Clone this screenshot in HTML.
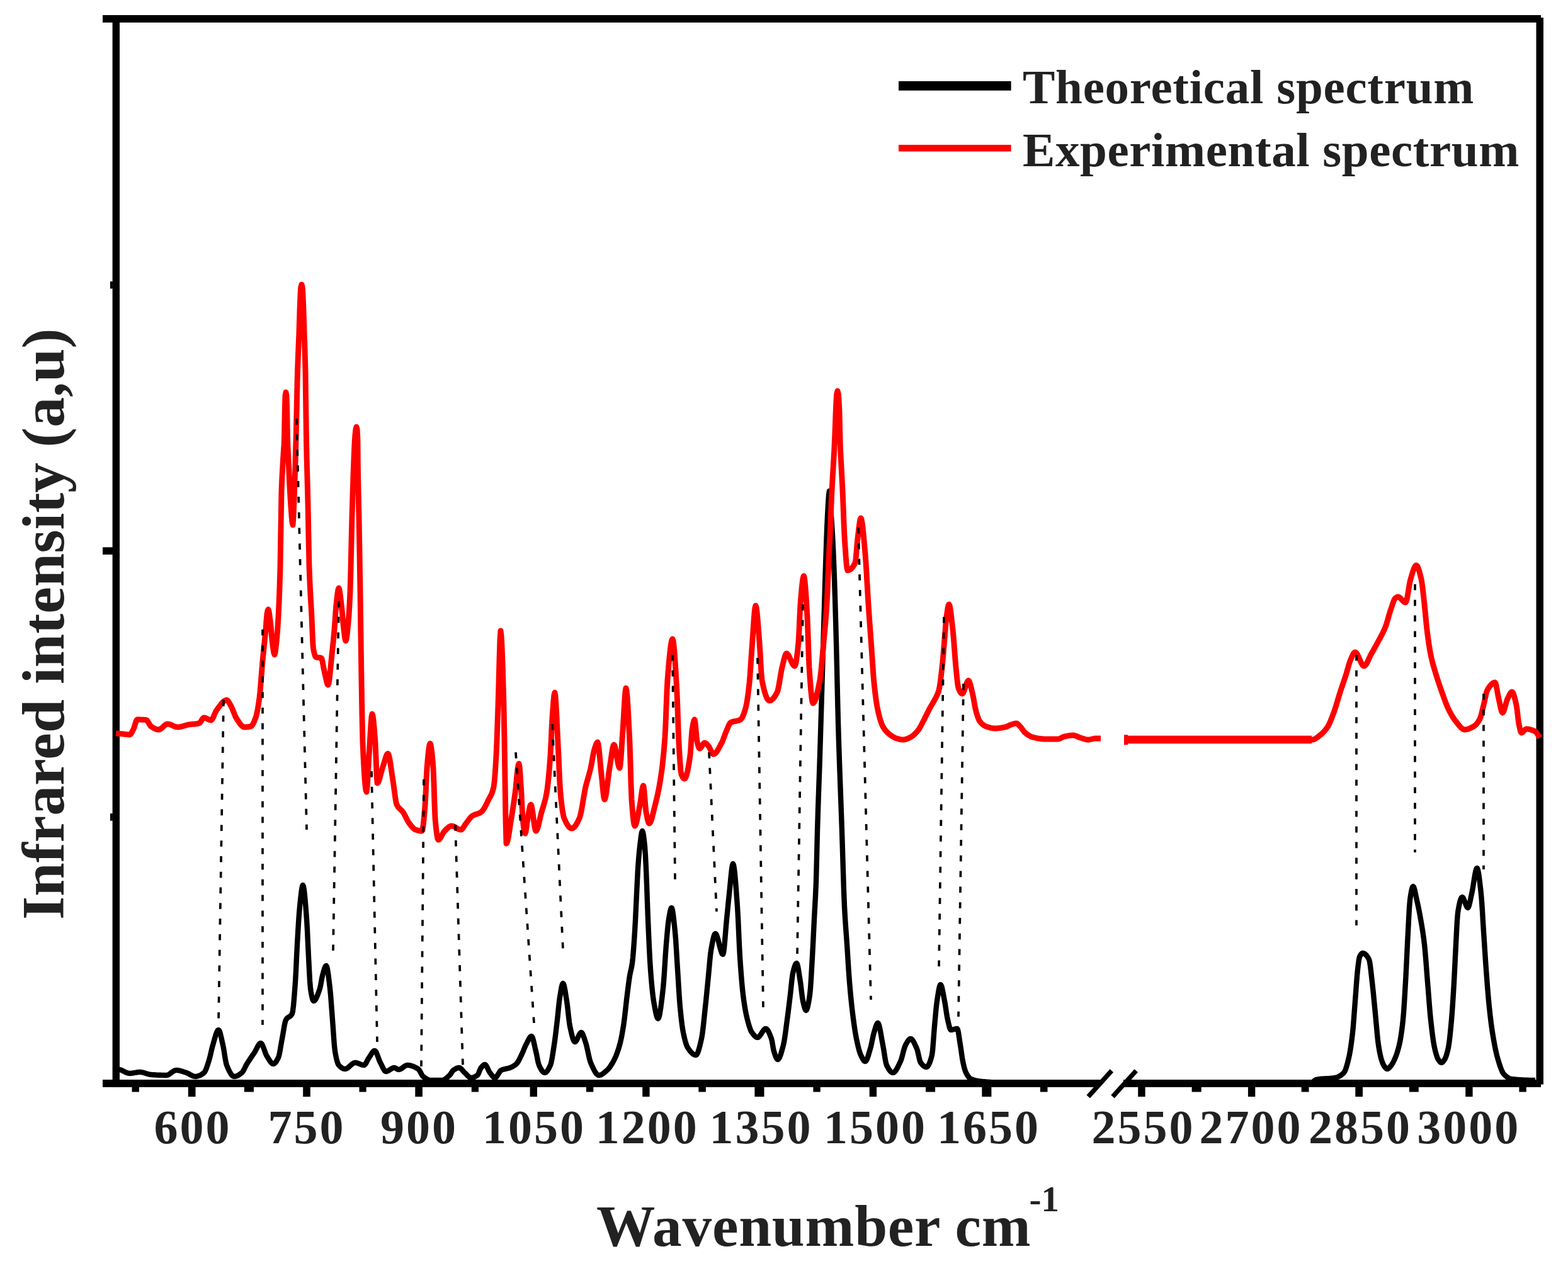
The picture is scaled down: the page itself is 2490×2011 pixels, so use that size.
<!DOCTYPE html>
<html lang="en"><head><meta charset="utf-8"><title>Infrared spectrum: theoretical vs experimental</title>
<style>html,body{margin:0;padding:0;background:#fff}svg{display:block}text{font-family:"Liberation Serif","DejaVu Serif",serif;font-weight:bold;fill:#222}</style></head><body>
<svg xmlns="http://www.w3.org/2000/svg" width="2490" height="2011" viewBox="0 0 2490 2011">
<rect width="2490" height="2011" fill="#fff"/>
<g fill="#000">
<rect x="163" y="24" width="2284" height="11.8"/>
<rect x="178.6" y="24" width="11.4" height="1703"/>
<rect x="2439.5" y="28" width="11.5" height="1694.6"/>
<rect x="163" y="1715" width="1584" height="11.9"/>
<rect x="1784" y="1715" width="663" height="11.9"/>
<rect x="163" y="869.3" width="16" height="11.6"/>
<rect x="174.9" y="447.1" width="4" height="11.4"/>
<rect x="174.9" y="1292.2" width="4" height="11.5"/>
<rect x="209.5" y="1726" width="11.4" height="8.5"/>
<rect x="298.8" y="1726" width="11.7" height="16.1"/>
<rect x="387.9" y="1726" width="15.1" height="8.5"/>
<rect x="481.2" y="1726" width="11.6" height="16.1"/>
<rect x="570.5" y="1726" width="11.1" height="8.5"/>
<rect x="659.3" y="1726" width="11.6" height="16.1"/>
<rect x="748.8" y="1726" width="11.2" height="8.5"/>
<rect x="841.6" y="1726" width="11.4" height="16.1"/>
<rect x="930.9" y="1726" width="11.4" height="8.5"/>
<rect x="1020.2" y="1726" width="11.4" height="16.1"/>
<rect x="1109.3" y="1726" width="11.6" height="8.5"/>
<rect x="1198.4" y="1726" width="15.1" height="16.1"/>
<rect x="1291.4" y="1726" width="11.4" height="8.5"/>
<rect x="1380.7" y="1726" width="11.4" height="16.1"/>
<rect x="1470.0" y="1726" width="15.1" height="8.5"/>
<rect x="1559.3" y="1726" width="15.1" height="16.1"/>
<rect x="1651.9" y="1726" width="11.6" height="8.5"/>
<rect x="1807.2" y="1726" width="11.4" height="16.1"/>
<rect x="1892.6" y="1726" width="15.1" height="8.5"/>
<rect x="1981.9" y="1726" width="11.4" height="16.1"/>
<rect x="2066.7" y="1726" width="11.8" height="8.5"/>
<rect x="2152.3" y="1726" width="11.7" height="16.1"/>
<rect x="2237.9" y="1726" width="14.9" height="8.5"/>
<rect x="2327.2" y="1726" width="11.4" height="16.1"/>
<rect x="2412.4" y="1726" width="11.4" height="8.5"/>
</g>
<g stroke="#000" stroke-width="7.4" stroke-linecap="butt">
<line x1="1728.2" y1="1742" x2="1765.3" y2="1700.8"/>
<line x1="1767" y1="1742" x2="1804.2" y2="1700.8"/>
</g>
<g fill="none" stroke="#000" stroke-width="8.4" stroke-linejoin="round" stroke-linecap="butt">
<path d="M186.0,1698.0 L187.0,1698.2 L188.0,1698.5 L189.0,1698.7 L190.0,1699.0 L191.0,1699.3 L192.0,1699.7 L193.0,1700.1 L194.0,1700.6 L195.0,1701.1 L196.0,1701.6 L197.0,1702.1 L198.0,1702.6 L199.0,1703.1 L200.0,1703.5 L201.0,1703.9 L202.0,1704.3 L203.0,1704.6 L204.0,1704.8 L205.0,1704.9 L206.0,1705.0 L207.0,1705.0 L208.0,1704.9 L209.0,1704.8 L210.0,1704.7 L211.0,1704.5 L212.0,1704.4 L213.0,1704.2 L214.0,1704.0 L215.0,1703.8 L216.0,1703.6 L217.0,1703.5 L218.0,1703.3 L219.0,1703.2 L220.0,1703.1 L221.0,1703.0 L222.0,1703.0 L223.0,1703.0 L224.0,1703.1 L225.0,1703.3 L226.0,1703.5 L227.0,1703.7 L228.0,1703.9 L229.0,1704.2 L230.0,1704.5 L231.0,1704.8 L232.0,1705.2 L233.0,1705.5 L234.0,1705.8 L235.0,1706.1 L236.0,1706.3 L237.0,1706.6 L238.0,1706.7 L239.0,1706.9 L240.0,1707.0 L241.0,1707.1 L242.0,1707.1 L243.0,1707.2 L244.0,1707.3 L245.0,1707.3 L246.0,1707.4 L247.0,1707.5 L248.0,1707.5 L249.0,1707.6 L250.0,1707.6 L251.0,1707.7 L252.0,1707.7 L253.0,1707.8 L254.0,1707.8 L255.0,1707.8 L256.0,1707.9 L257.0,1707.9 L258.0,1707.9 L259.0,1707.9 L260.0,1708.0 L261.0,1708.0 L262.0,1708.0 L263.0,1708.0 L264.0,1708.0 L265.0,1707.9 L266.0,1707.7 L267.0,1707.3 L268.0,1706.8 L269.0,1706.1 L270.0,1705.5 L271.0,1704.7 L272.0,1704.0 L273.0,1703.3 L274.0,1702.5 L275.0,1701.9 L276.0,1701.2 L277.0,1700.7 L278.0,1700.3 L279.0,1700.1 L280.0,1700.0 L281.0,1700.0 L282.0,1700.1 L283.0,1700.2 L284.0,1700.4 L285.0,1700.6 L286.0,1700.8 L287.0,1701.1 L288.0,1701.4 L289.0,1701.7 L290.0,1702.0 L291.0,1702.3 L292.0,1702.7 L293.0,1703.0 L294.0,1703.3 L295.0,1703.7 L296.0,1704.0 L297.0,1704.4 L298.0,1704.8 L299.0,1705.3 L300.0,1705.8 L301.0,1706.4 L302.0,1707.0 L303.0,1707.6 L304.0,1708.1 L305.0,1708.6 L306.0,1709.1 L307.0,1709.5 L308.0,1709.7 L309.0,1709.9 L310.0,1710.0 L311.0,1710.0 L312.0,1709.9 L313.0,1709.7 L314.0,1709.4 L315.0,1709.1 L316.0,1708.8 L317.0,1708.4 L318.0,1707.9 L319.0,1707.4 L320.0,1706.8 L321.0,1706.2 L322.0,1705.5 L323.0,1704.8 L324.0,1704.0 L325.0,1702.9 L326.0,1701.2 L327.0,1698.9 L328.0,1696.3 L329.0,1693.4 L330.0,1690.3 L331.0,1687.2 L332.0,1684.0 L333.0,1680.5 L334.0,1676.5 L335.0,1672.1 L336.0,1667.7 L337.0,1663.6 L338.0,1660.0 L339.0,1656.6 L340.0,1653.0 L341.0,1649.5 L342.0,1646.0 L343.0,1642.8 L344.0,1640.1 L345.0,1637.9 L346.0,1636.5 L347.0,1636.0 L348.0,1636.8 L349.0,1639.0 L350.0,1642.4 L351.0,1646.4 L352.0,1651.0 L353.0,1655.6 L354.0,1660.0 L355.0,1664.9 L356.0,1670.9 L357.0,1677.3 L358.0,1683.3 L359.0,1688.5 L360.0,1692.0 L361.0,1694.5 L362.0,1696.8 L363.0,1699.0 L364.0,1701.1 L365.0,1703.0 L366.0,1704.7 L367.0,1706.3 L368.0,1707.6 L369.0,1708.6 L370.0,1709.4 L371.0,1709.8 L372.0,1710.0 L373.0,1709.9 L374.0,1709.8 L375.0,1709.5 L376.0,1709.2 L377.0,1708.7 L378.0,1708.2 L379.0,1707.6 L380.0,1707.0 L381.0,1706.3 L382.0,1705.6 L383.0,1704.8 L384.0,1704.0 L385.0,1703.0 L386.0,1701.5 L387.0,1699.8 L388.0,1697.8 L389.0,1695.8 L390.0,1693.7 L391.0,1691.8 L392.0,1690.0 L393.0,1688.4 L394.0,1686.8 L395.0,1685.3 L396.0,1683.8 L397.0,1682.3 L398.0,1680.8 L399.0,1679.3 L400.0,1677.9 L401.0,1676.4 L402.0,1675.0 L403.0,1673.5 L404.0,1672.0 L405.0,1670.4 L406.0,1668.5 L407.0,1666.6 L408.0,1664.6 L409.0,1662.6 L410.0,1660.8 L411.0,1659.3 L412.0,1658.1 L413.0,1657.3 L414.0,1657.0 L415.0,1657.5 L416.0,1658.7 L417.0,1660.6 L418.0,1662.9 L419.0,1665.6 L420.0,1668.4 L421.0,1671.2 L422.0,1673.9 L423.0,1676.2 L424.0,1678.0 L425.0,1679.6 L426.0,1681.2 L427.0,1682.8 L428.0,1684.4 L429.0,1685.9 L430.0,1687.2 L431.0,1688.4 L432.0,1689.2 L433.0,1689.8 L434.0,1690.0 L435.0,1689.8 L436.0,1689.2 L437.0,1688.3 L438.0,1687.1 L439.0,1685.6 L440.0,1683.9 L441.0,1682.0 L442.0,1680.0 L443.0,1677.0 L444.0,1672.6 L445.0,1667.2 L446.0,1661.3 L447.0,1655.4 L448.0,1650.0 L449.0,1644.6 L450.0,1638.6 L451.0,1632.6 L452.0,1627.1 L453.0,1622.8 L454.0,1620.0 L455.0,1618.5 L456.0,1617.3 L457.0,1616.5 L458.0,1615.9 L459.0,1615.3 L460.0,1614.7 L461.0,1614.0 L462.0,1613.0 L463.0,1611.7 L464.0,1610.0 L465.0,1605.7 L466.0,1597.5 L467.0,1586.5 L468.0,1573.7 L469.0,1560.0 L470.0,1542.2 L471.0,1520.2 L472.0,1500.0 L473.0,1482.7 L474.0,1466.1 L475.0,1451.5 L476.0,1440.0 L477.0,1430.4 L478.0,1421.2 L479.0,1413.4 L480.0,1408.0 L481.0,1406.0 L482.0,1408.2 L483.0,1414.2 L484.0,1423.3 L485.0,1434.5 L486.0,1447.0 L487.0,1460.0 L488.0,1477.3 L489.0,1499.2 L490.0,1520.0 L491.0,1539.5 L492.0,1558.1 L493.0,1570.0 L494.0,1576.4 L495.0,1581.9 L496.0,1586.2 L497.0,1589.0 L498.0,1590.0 L499.0,1589.7 L500.0,1588.9 L501.0,1587.6 L502.0,1585.9 L503.0,1583.8 L504.0,1581.4 L505.0,1578.8 L506.0,1576.0 L507.0,1573.0 L508.0,1570.0 L509.0,1565.8 L510.0,1560.3 L511.0,1554.6 L512.0,1550.0 L513.0,1546.3 L514.0,1542.7 L515.0,1539.3 L516.0,1536.6 L517.0,1534.7 L518.0,1534.0 L519.0,1535.5 L520.0,1539.6 L521.0,1545.8 L522.0,1553.3 L523.0,1561.6 L524.0,1570.0 L525.0,1580.1 L526.0,1592.9 L527.0,1606.7 L528.0,1620.0 L529.0,1633.7 L530.0,1648.3 L531.0,1661.2 L532.0,1670.0 L533.0,1675.6 L534.0,1680.4 L535.0,1684.6 L536.0,1687.9 L537.0,1690.4 L538.0,1692.0 L539.0,1693.1 L540.0,1694.0 L541.0,1694.9 L542.0,1695.7 L543.0,1696.4 L544.0,1696.9 L545.0,1697.4 L546.0,1697.7 L547.0,1697.9 L548.0,1698.0 L549.0,1697.9 L550.0,1697.6 L551.0,1697.1 L552.0,1696.4 L553.0,1695.7 L554.0,1694.8 L555.0,1693.9 L556.0,1693.0 L557.0,1692.1 L558.0,1691.2 L559.0,1690.3 L560.0,1689.6 L561.0,1688.9 L562.0,1688.4 L563.0,1688.1 L564.0,1688.0 L565.0,1688.1 L566.0,1688.2 L567.0,1688.5 L568.0,1688.8 L569.0,1689.2 L570.0,1689.6 L571.0,1690.0 L572.0,1690.4 L573.0,1690.8 L574.0,1691.2 L575.0,1691.5 L576.0,1691.8 L577.0,1691.9 L578.0,1692.0 L579.0,1691.6 L580.0,1690.6 L581.0,1689.2 L582.0,1687.3 L583.0,1685.4 L584.0,1683.4 L585.0,1681.5 L586.0,1680.0 L587.0,1678.6 L588.0,1677.0 L589.0,1675.3 L590.0,1673.7 L591.0,1672.3 L592.0,1671.0 L593.0,1669.9 L594.0,1669.2 L595.0,1669.0 L596.0,1669.5 L597.0,1670.8 L598.0,1672.7 L599.0,1675.2 L600.0,1677.9 L601.0,1680.7 L602.0,1683.4 L603.0,1685.9 L604.0,1688.0 L605.0,1689.9 L606.0,1691.9 L607.0,1694.0 L608.0,1696.0 L609.0,1697.9 L610.0,1699.6 L611.0,1700.9 L612.0,1701.7 L613.0,1702.0 L614.0,1701.9 L615.0,1701.6 L616.0,1701.2 L617.0,1700.6 L618.0,1700.0 L619.0,1699.3 L620.0,1698.7 L621.0,1698.0 L622.0,1697.4 L623.0,1696.8 L624.0,1696.4 L625.0,1696.1 L626.0,1696.0 L627.0,1696.2 L628.0,1696.6 L629.0,1697.2 L630.0,1697.8 L631.0,1698.4 L632.0,1698.8 L633.0,1699.0 L634.0,1698.9 L635.0,1698.6 L636.0,1698.2 L637.0,1697.6 L638.0,1697.0 L639.0,1696.2 L640.0,1695.5 L641.0,1694.8 L642.0,1694.0 L643.0,1693.4 L644.0,1692.8 L645.0,1692.4 L646.0,1692.1 L647.0,1692.0 L648.0,1692.0 L649.0,1692.1 L650.0,1692.2 L651.0,1692.4 L652.0,1692.6 L653.0,1692.9 L654.0,1693.2 L655.0,1693.5 L656.0,1693.9 L657.0,1694.3 L658.0,1694.7 L659.0,1695.2 L660.0,1695.7 L661.0,1696.2 L662.0,1696.8 L663.0,1697.4 L664.0,1698.0 L665.0,1698.9 L666.0,1700.3 L667.0,1702.0 L668.0,1703.8 L669.0,1705.7 L670.0,1707.5 L671.0,1709.0 L672.0,1710.0 L673.0,1710.8 L674.0,1711.5 L675.0,1712.2 L676.0,1712.9 L677.0,1713.6 L678.0,1714.2 L679.0,1714.7 L680.0,1715.1 L681.0,1715.5 L682.0,1715.8 L683.0,1715.9 L684.0,1716.0 L685.0,1716.0 L686.0,1716.0 L687.0,1716.0 L688.0,1716.0 L689.0,1716.0 L690.0,1716.0 L691.0,1716.0 L692.0,1716.0 L693.0,1716.0 L694.0,1716.0 L695.0,1716.0 L696.0,1716.0 L697.0,1716.0 L698.0,1716.0 L699.0,1716.0 L700.0,1716.0 L701.0,1716.0 L702.0,1716.0 L703.0,1715.9 L704.0,1715.7 L705.0,1715.3 L706.0,1714.7 L707.0,1714.1 L708.0,1713.4 L709.0,1712.6 L710.0,1711.7 L711.0,1710.8 L712.0,1709.9 L713.0,1708.9 L714.0,1708.0 L715.0,1706.9 L716.0,1705.4 L717.0,1703.8 L718.0,1702.3 L719.0,1700.9 L720.0,1700.0 L721.0,1699.3 L722.0,1698.7 L723.0,1698.0 L724.0,1697.5 L725.0,1697.0 L726.0,1696.6 L727.0,1696.3 L728.0,1696.1 L729.0,1696.0 L730.0,1696.2 L731.0,1696.7 L732.0,1697.5 L733.0,1698.5 L734.0,1699.6 L735.0,1700.8 L736.0,1702.0 L737.0,1703.1 L738.0,1704.0 L739.0,1704.9 L740.0,1705.9 L741.0,1707.0 L742.0,1708.0 L743.0,1709.1 L744.0,1710.0 L745.0,1710.8 L746.0,1711.4 L747.0,1711.9 L748.0,1712.0 L749.0,1712.0 L750.0,1711.8 L751.0,1711.6 L752.0,1711.3 L753.0,1710.9 L754.0,1710.4 L755.0,1709.9 L756.0,1709.3 L757.0,1708.7 L758.0,1708.0 L759.0,1706.8 L760.0,1704.8 L761.0,1702.4 L762.0,1699.8 L763.0,1697.6 L764.0,1696.0 L765.0,1694.8 L766.0,1693.7 L767.0,1692.6 L768.0,1691.8 L769.0,1691.2 L770.0,1691.0 L771.0,1691.4 L772.0,1692.6 L773.0,1694.2 L774.0,1696.3 L775.0,1698.4 L776.0,1700.6 L777.0,1702.5 L778.0,1704.0 L779.0,1705.3 L780.0,1706.6 L781.0,1708.0 L782.0,1709.2 L783.0,1710.3 L784.0,1711.2 L785.0,1711.8 L786.0,1712.0 L787.0,1711.7 L788.0,1710.9 L789.0,1709.7 L790.0,1708.2 L791.0,1706.6 L792.0,1704.9 L793.0,1703.3 L794.0,1701.9 L795.0,1700.7 L796.0,1700.0 L797.0,1699.6 L798.0,1699.2 L799.0,1698.8 L800.0,1698.6 L801.0,1698.3 L802.0,1698.1 L803.0,1697.9 L804.0,1697.6 L805.0,1697.4 L806.0,1697.2 L807.0,1697.0 L808.0,1696.7 L809.0,1696.4 L810.0,1696.0 L811.0,1695.6 L812.0,1695.2 L813.0,1694.7 L814.0,1694.2 L815.0,1693.6 L816.0,1693.0 L817.0,1692.4 L818.0,1691.7 L819.0,1690.9 L820.0,1690.0 L821.0,1688.9 L822.0,1687.5 L823.0,1685.9 L824.0,1684.1 L825.0,1682.1 L826.0,1680.1 L827.0,1678.0 L828.0,1676.0 L829.0,1673.9 L830.0,1671.6 L831.0,1669.3 L832.0,1666.8 L833.0,1664.4 L834.0,1662.1 L835.0,1659.9 L836.0,1658.0 L837.0,1656.1 L838.0,1654.1 L839.0,1652.1 L840.0,1650.2 L841.0,1648.5 L842.0,1647.2 L843.0,1646.3 L844.0,1646.0 L845.0,1646.9 L846.0,1649.2 L847.0,1652.6 L848.0,1656.8 L849.0,1661.3 L850.0,1665.8 L851.0,1670.0 L852.0,1674.4 L853.0,1679.5 L854.0,1684.6 L855.0,1689.0 L856.0,1692.0 L857.0,1694.1 L858.0,1696.1 L859.0,1698.0 L860.0,1699.7 L861.0,1701.1 L862.0,1702.3 L863.0,1703.2 L864.0,1703.8 L865.0,1704.0 L866.0,1703.8 L867.0,1703.3 L868.0,1702.4 L869.0,1701.2 L870.0,1699.7 L871.0,1698.1 L872.0,1696.2 L873.0,1694.2 L874.0,1692.0 L875.0,1689.0 L876.0,1684.6 L877.0,1679.2 L878.0,1673.0 L879.0,1666.5 L880.0,1660.0 L881.0,1653.1 L882.0,1645.4 L883.0,1637.1 L884.0,1628.6 L885.0,1620.0 L886.0,1610.7 L887.0,1600.7 L888.0,1591.4 L889.0,1584.0 L890.0,1577.9 L891.0,1571.9 L892.0,1566.9 L893.0,1563.3 L894.0,1562.0 L895.0,1563.2 L896.0,1566.6 L897.0,1571.5 L898.0,1577.5 L899.0,1583.8 L900.0,1590.0 L901.0,1597.2 L902.0,1606.1 L903.0,1615.4 L904.0,1623.8 L905.0,1630.0 L906.0,1634.6 L907.0,1639.1 L908.0,1643.4 L909.0,1647.2 L910.0,1650.4 L911.0,1652.8 L912.0,1654.4 L913.0,1655.0 L914.0,1654.6 L915.0,1653.4 L916.0,1651.8 L917.0,1649.7 L918.0,1647.5 L919.0,1645.3 L920.0,1643.2 L921.0,1641.6 L922.0,1640.4 L923.0,1640.0 L924.0,1640.5 L925.0,1642.0 L926.0,1644.2 L927.0,1646.9 L928.0,1649.9 L929.0,1653.0 L930.0,1656.0 L931.0,1659.3 L932.0,1663.4 L933.0,1667.9 L934.0,1672.6 L935.0,1677.2 L936.0,1681.5 L937.0,1685.2 L938.0,1688.0 L939.0,1690.3 L940.0,1692.6 L941.0,1694.8 L942.0,1696.9 L943.0,1699.0 L944.0,1700.9 L945.0,1702.6 L946.0,1704.1 L947.0,1705.4 L948.0,1706.5 L949.0,1707.3 L950.0,1707.8 L951.0,1708.0 L952.0,1707.9 L953.0,1707.7 L954.0,1707.4 L955.0,1706.9 L956.0,1706.4 L957.0,1705.8 L958.0,1705.1 L959.0,1704.3 L960.0,1703.5 L961.0,1702.6 L962.0,1701.8 L963.0,1700.9 L964.0,1700.0 L965.0,1699.1 L966.0,1698.0 L967.0,1696.8 L968.0,1695.6 L969.0,1694.2 L970.0,1692.7 L971.0,1691.2 L972.0,1689.5 L973.0,1687.8 L974.0,1686.0 L975.0,1684.1 L976.0,1682.1 L977.0,1679.9 L978.0,1677.6 L979.0,1675.1 L980.0,1672.5 L981.0,1669.6 L982.0,1666.6 L983.0,1663.4 L984.0,1660.0 L985.0,1656.2 L986.0,1651.9 L987.0,1647.1 L988.0,1641.8 L989.0,1636.1 L990.0,1630.0 L991.0,1623.0 L992.0,1615.0 L993.0,1606.2 L994.0,1597.2 L995.0,1588.3 L996.0,1580.0 L997.0,1572.0 L998.0,1564.1 L999.0,1556.6 L1000.0,1550.0 L1001.0,1544.8 L1002.0,1540.6 L1003.0,1536.0 L1004.0,1530.0 L1005.0,1521.1 L1006.0,1509.2 L1007.0,1495.2 L1008.0,1480.0 L1009.0,1462.0 L1010.0,1441.0 L1011.0,1420.0 L1012.0,1398.8 L1013.0,1380.0 L1014.0,1366.1 L1015.0,1354.4 L1016.0,1345.0 L1017.0,1336.4 L1018.0,1328.4 L1019.0,1322.4 L1020.0,1320.0 L1021.0,1322.1 L1022.0,1327.6 L1023.0,1335.6 L1024.0,1345.0 L1025.0,1359.7 L1026.0,1380.0 L1027.0,1404.9 L1028.0,1433.7 L1029.0,1460.0 L1030.0,1482.9 L1031.0,1504.8 L1032.0,1524.2 L1033.0,1540.0 L1034.0,1552.9 L1035.0,1564.5 L1036.0,1574.7 L1037.0,1583.2 L1038.0,1590.0 L1039.0,1595.9 L1040.0,1601.5 L1041.0,1606.8 L1042.0,1611.3 L1043.0,1614.8 L1044.0,1617.2 L1045.0,1618.0 L1046.0,1616.9 L1047.0,1613.8 L1048.0,1608.9 L1049.0,1602.7 L1050.0,1595.3 L1051.0,1587.2 L1052.0,1578.7 L1053.0,1570.0 L1054.0,1559.0 L1055.0,1544.7 L1056.0,1528.8 L1057.0,1513.3 L1058.0,1500.0 L1059.0,1488.3 L1060.0,1477.1 L1061.0,1467.4 L1062.0,1460.0 L1063.0,1454.1 L1064.0,1448.7 L1065.0,1444.5 L1066.0,1442.2 L1066.4,1442.0 L1067.0,1442.7 L1068.0,1446.4 L1069.0,1452.8 L1070.0,1461.0 L1071.0,1470.4 L1072.0,1480.0 L1073.0,1491.9 L1074.0,1507.3 L1075.0,1524.0 L1076.0,1540.0 L1077.0,1555.8 L1078.0,1572.2 L1079.0,1587.5 L1080.0,1600.0 L1081.0,1610.1 L1082.0,1619.3 L1083.0,1627.5 L1084.0,1634.4 L1085.0,1640.0 L1086.0,1644.7 L1087.0,1649.1 L1088.0,1653.1 L1089.0,1656.6 L1090.0,1659.7 L1091.0,1662.1 L1092.0,1664.0 L1093.0,1665.5 L1094.0,1667.0 L1095.0,1668.4 L1096.0,1669.7 L1097.0,1670.9 L1098.0,1672.0 L1099.0,1673.0 L1100.0,1673.9 L1101.0,1674.6 L1102.0,1675.2 L1103.0,1675.6 L1104.0,1675.9 L1105.0,1676.0 L1106.0,1675.5 L1107.0,1674.3 L1108.0,1672.2 L1109.0,1669.5 L1110.0,1666.3 L1111.0,1662.7 L1112.0,1658.6 L1113.0,1654.4 L1114.0,1650.0 L1115.0,1644.5 L1116.0,1637.1 L1117.0,1628.5 L1118.0,1619.1 L1119.0,1609.4 L1120.0,1600.0 L1121.0,1590.6 L1122.0,1580.6 L1123.0,1570.4 L1124.0,1560.1 L1125.0,1550.0 L1126.0,1539.2 L1127.0,1527.9 L1128.0,1517.6 L1129.0,1510.0 L1130.0,1504.2 L1131.0,1498.7 L1132.0,1493.7 L1133.0,1489.4 L1134.0,1486.0 L1135.0,1483.8 L1136.0,1483.0 L1137.0,1483.6 L1138.0,1485.4 L1139.0,1488.2 L1140.0,1491.6 L1141.0,1495.4 L1142.0,1499.5 L1143.0,1503.6 L1144.0,1507.4 L1145.0,1510.8 L1146.0,1513.6 L1147.0,1515.4 L1148.0,1516.0 L1149.0,1513.2 L1150.0,1505.8 L1151.0,1495.3 L1152.0,1483.1 L1153.0,1470.9 L1154.0,1460.0 L1155.0,1450.0 L1156.0,1439.6 L1157.0,1429.5 L1158.0,1420.0 L1159.0,1410.2 L1160.0,1399.6 L1161.0,1389.3 L1162.0,1380.5 L1163.0,1374.3 L1164.0,1372.0 L1165.0,1374.1 L1166.0,1380.0 L1167.0,1388.8 L1168.0,1400.0 L1169.0,1412.7 L1170.0,1426.3 L1171.0,1440.0 L1172.0,1457.3 L1173.0,1479.2 L1174.0,1501.5 L1175.0,1520.0 L1176.0,1534.6 L1177.0,1548.1 L1178.0,1560.3 L1179.0,1571.0 L1180.0,1580.0 L1181.0,1587.7 L1182.0,1594.7 L1183.0,1601.0 L1184.0,1606.6 L1185.0,1611.6 L1186.0,1616.0 L1187.0,1620.0 L1188.0,1623.8 L1189.0,1627.4 L1190.0,1630.7 L1191.0,1633.6 L1192.0,1636.2 L1193.0,1638.4 L1194.0,1640.0 L1195.0,1641.4 L1196.0,1642.7 L1197.0,1643.9 L1198.0,1645.0 L1199.0,1646.0 L1200.0,1646.9 L1201.0,1647.5 L1202.0,1647.9 L1203.0,1648.0 L1204.0,1647.8 L1205.0,1647.1 L1206.0,1646.1 L1207.0,1644.8 L1208.0,1643.4 L1209.0,1641.8 L1210.0,1640.2 L1211.0,1638.6 L1212.0,1637.2 L1213.0,1635.9 L1214.0,1634.9 L1215.0,1634.2 L1216.0,1634.0 L1217.0,1634.3 L1218.0,1635.1 L1219.0,1636.3 L1220.0,1637.9 L1221.0,1639.9 L1222.0,1642.1 L1223.0,1644.6 L1224.0,1647.2 L1225.0,1650.0 L1226.0,1654.1 L1227.0,1659.8 L1228.0,1665.7 L1229.0,1670.0 L1230.0,1673.1 L1231.0,1676.1 L1232.0,1678.8 L1233.0,1681.0 L1234.0,1682.5 L1235.0,1683.0 L1236.0,1682.6 L1237.0,1681.4 L1238.0,1679.6 L1239.0,1677.2 L1240.0,1674.3 L1241.0,1671.0 L1242.0,1667.5 L1243.0,1663.8 L1244.0,1660.0 L1245.0,1655.4 L1246.0,1649.5 L1247.0,1642.6 L1248.0,1635.2 L1249.0,1627.5 L1250.0,1620.0 L1251.0,1612.5 L1252.0,1604.6 L1253.0,1596.5 L1254.0,1588.3 L1255.0,1580.0 L1256.0,1570.8 L1257.0,1561.0 L1258.0,1552.1 L1259.0,1546.0 L1260.0,1541.9 L1261.0,1538.1 L1262.0,1534.8 L1263.0,1532.3 L1264.0,1530.6 L1265.0,1530.0 L1266.0,1531.4 L1267.0,1535.1 L1268.0,1540.4 L1269.0,1546.8 L1270.0,1553.6 L1271.0,1560.0 L1272.0,1567.3 L1273.0,1575.9 L1274.0,1584.0 L1275.0,1590.0 L1276.0,1594.3 L1277.0,1598.4 L1278.0,1601.8 L1279.0,1604.1 L1280.0,1605.0 L1281.0,1604.1 L1282.0,1601.5 L1283.0,1597.6 L1284.0,1592.5 L1285.0,1586.6 L1286.0,1580.0 L1287.0,1570.0 L1288.0,1555.2 L1289.0,1537.8 L1290.0,1520.0 L1291.0,1501.2 L1292.0,1480.6 L1293.0,1460.0 L1294.0,1441.6 L1295.0,1423.2 L1296.0,1400.0 L1297.0,1361.9 L1298.0,1320.0 L1299.0,1287.6 L1300.0,1258.4 L1301.0,1230.0 L1302.0,1200.0 L1303.0,1167.4 L1304.0,1133.7 L1305.0,1100.0 L1306.0,1066.7 L1307.0,1033.3 L1308.0,1000.0 L1309.0,965.8 L1310.0,931.7 L1311.0,900.0 L1312.0,870.0 L1313.0,842.1 L1314.0,820.0 L1315.0,801.7 L1316.0,786.4 L1317.0,780.0 L1318.0,789.6 L1319.0,806.0 L1320.0,819.6 L1321.0,833.8 L1322.0,850.0 L1323.0,869.5 L1324.0,892.4 L1324.5,905.0 L1325.0,918.7 L1326.0,949.4 L1327.0,983.6 L1328.0,1020.0 L1329.0,1061.6 L1330.0,1106.7 L1331.0,1147.0 L1332.0,1180.1 L1333.0,1209.9 L1334.0,1237.7 L1335.0,1264.5 L1336.0,1291.6 L1337.0,1320.0 L1338.0,1351.6 L1339.0,1384.7 L1340.0,1415.5 L1341.0,1440.0 L1342.0,1457.8 L1343.0,1472.5 L1344.0,1485.9 L1345.0,1500.0 L1346.0,1515.5 L1347.0,1531.5 L1348.0,1546.6 L1349.0,1560.0 L1350.0,1571.6 L1351.0,1582.4 L1352.0,1592.4 L1353.0,1601.6 L1354.0,1610.0 L1355.0,1617.9 L1356.0,1625.4 L1357.0,1632.4 L1358.0,1638.9 L1359.0,1644.8 L1360.0,1650.0 L1361.0,1654.7 L1362.0,1659.2 L1363.0,1663.4 L1364.0,1667.3 L1365.0,1670.7 L1366.0,1673.6 L1367.0,1676.0 L1368.0,1678.1 L1369.0,1680.1 L1370.0,1682.0 L1371.0,1683.6 L1372.0,1684.9 L1373.0,1685.7 L1374.0,1686.0 L1375.0,1685.5 L1376.0,1684.1 L1377.0,1681.9 L1378.0,1679.2 L1379.0,1676.1 L1380.0,1672.7 L1381.0,1669.3 L1382.0,1666.0 L1383.0,1662.3 L1384.0,1657.8 L1385.0,1653.0 L1386.0,1648.1 L1387.0,1643.7 L1388.0,1640.0 L1389.0,1636.7 L1390.0,1633.3 L1391.0,1630.1 L1392.0,1627.5 L1393.0,1625.7 L1394.0,1625.0 L1395.0,1626.0 L1396.0,1628.7 L1397.0,1632.7 L1398.0,1637.7 L1399.0,1643.3 L1400.0,1649.1 L1401.0,1654.8 L1402.0,1660.0 L1403.0,1665.4 L1404.0,1671.7 L1405.0,1678.1 L1406.0,1684.0 L1407.0,1688.9 L1408.0,1692.0 L1409.0,1694.0 L1410.0,1695.9 L1411.0,1697.6 L1412.0,1699.2 L1413.0,1700.6 L1414.0,1701.8 L1415.0,1702.7 L1416.0,1703.4 L1417.0,1703.9 L1418.0,1704.0 L1419.0,1703.8 L1420.0,1703.3 L1421.0,1702.4 L1422.0,1701.2 L1423.0,1699.8 L1424.0,1698.2 L1425.0,1696.4 L1426.0,1694.4 L1427.0,1692.4 L1428.0,1690.3 L1429.0,1688.1 L1430.0,1686.0 L1431.0,1683.5 L1432.0,1680.2 L1433.0,1676.6 L1434.0,1672.7 L1435.0,1668.9 L1436.0,1665.3 L1437.0,1662.3 L1438.0,1660.0 L1439.0,1658.2 L1440.0,1656.4 L1441.0,1654.7 L1442.0,1653.2 L1443.0,1651.9 L1444.0,1650.9 L1445.0,1650.2 L1446.0,1650.0 L1447.0,1650.2 L1448.0,1650.9 L1449.0,1652.0 L1450.0,1653.4 L1451.0,1655.1 L1452.0,1657.1 L1453.0,1659.2 L1454.0,1661.4 L1455.0,1663.7 L1456.0,1666.0 L1457.0,1669.0 L1458.0,1673.2 L1459.0,1677.7 L1460.0,1682.1 L1461.0,1685.8 L1462.0,1688.0 L1463.0,1689.3 L1464.0,1690.5 L1465.0,1691.6 L1466.0,1692.6 L1467.0,1693.4 L1468.0,1694.1 L1469.0,1694.6 L1470.0,1694.9 L1471.0,1695.0 L1472.0,1694.7 L1473.0,1694.0 L1474.0,1692.7 L1475.0,1690.9 L1476.0,1688.8 L1477.0,1686.1 L1478.0,1683.1 L1479.0,1679.7 L1480.0,1676.0 L1481.0,1668.6 L1482.0,1656.4 L1483.0,1642.5 L1484.0,1630.0 L1485.0,1618.9 L1486.0,1607.9 L1487.0,1597.9 L1488.0,1590.0 L1489.0,1583.4 L1490.0,1577.1 L1491.0,1571.4 L1492.0,1567.0 L1493.0,1564.5 L1493.6,1564.0 L1494.0,1564.2 L1495.0,1566.0 L1496.0,1569.5 L1497.0,1574.1 L1498.0,1579.4 L1499.0,1584.8 L1500.0,1590.0 L1501.0,1595.6 L1502.0,1602.1 L1503.0,1608.8 L1504.0,1615.0 L1505.0,1620.0 L1506.0,1624.3 L1507.0,1628.6 L1508.0,1632.4 L1509.0,1635.0 L1510.0,1636.0 L1511.0,1635.9 L1512.0,1635.8 L1513.0,1635.6 L1514.0,1635.3 L1515.0,1635.0 L1516.0,1634.7 L1517.0,1634.4 L1518.0,1634.2 L1519.0,1634.1 L1520.0,1634.0 L1521.0,1635.8 L1522.0,1640.4 L1523.0,1646.7 L1524.0,1653.6 L1525.0,1660.0 L1526.0,1666.4 L1527.0,1673.6 L1528.0,1680.4 L1529.0,1686.0 L1530.0,1690.6 L1531.0,1694.8 L1532.0,1698.5 L1533.0,1701.6 L1534.0,1704.0 L1535.0,1705.9 L1536.0,1707.6 L1537.0,1709.1 L1538.0,1710.5 L1539.0,1711.7 L1540.0,1712.7 L1541.0,1713.5 L1542.0,1714.0 L1543.0,1714.4 L1544.0,1714.8 L1545.0,1715.1 L1546.0,1715.4 L1547.0,1715.7 L1548.0,1716.0 L1549.0,1716.3 L1550.0,1716.5 L1551.0,1716.7 L1552.0,1716.9 L1553.0,1717.1 L1554.0,1717.3 L1555.0,1717.4 L1556.0,1717.6 L1557.0,1717.7 L1558.0,1717.8 L1559.0,1717.9 L1560.0,1718.0 L1561.0,1718.1 L1562.0,1718.2 L1563.0,1718.3 L1564.0,1718.3 L1565.0,1718.4 L1566.0,1718.5 L1567.0,1718.6 L1568.0,1718.7 L1569.0,1718.7 L1570.0,1718.8 L1571.0,1718.9 L1572.0,1719.0 L1573.0,1719.0 L1574.0,1719.1 L1575.0,1719.2 L1576.0,1719.2 L1577.0,1719.3 L1578.0,1719.3 L1579.0,1719.4 L1580.0,1719.4 L1581.0,1719.5 L1582.0,1719.5 L1583.0,1719.6 L1584.0,1719.6 L1585.0,1719.7 L1586.0,1719.7 L1587.0,1719.8 L1588.0,1719.8 L1589.0,1719.8 L1590.0,1719.9 L1591.0,1719.9 L1592.0,1719.9 L1593.0,1719.9 L1594.0,1719.9 L1595.0,1720.0 L1596.0,1720.0 L1597.0,1720.0 L1598.0,1720.0 L1599.0,1720.0 L1600.0,1720.0"/>
<path d="M2084.0,1720.0 L2085.0,1719.0 L2086.0,1718.0 L2087.0,1716.9 L2088.0,1716.1 L2089.0,1715.4 L2090.0,1715.0 L2091.0,1714.8 L2092.0,1714.6 L2093.0,1714.4 L2094.0,1714.3 L2095.0,1714.2 L2096.0,1714.0 L2097.0,1713.9 L2098.0,1713.8 L2099.0,1713.7 L2100.0,1713.7 L2101.0,1713.6 L2102.0,1713.5 L2103.0,1713.5 L2104.0,1713.4 L2105.0,1713.4 L2106.0,1713.3 L2107.0,1713.3 L2108.0,1713.2 L2109.0,1713.2 L2110.0,1713.1 L2111.0,1713.1 L2112.0,1713.0 L2113.0,1712.9 L2114.0,1712.8 L2115.0,1712.7 L2116.0,1712.6 L2117.0,1712.5 L2118.0,1712.3 L2119.0,1712.2 L2120.0,1712.0 L2121.0,1711.8 L2122.0,1711.5 L2123.0,1711.2 L2124.0,1710.9 L2125.0,1710.5 L2126.0,1710.0 L2127.0,1709.5 L2128.0,1708.9 L2129.0,1708.2 L2130.0,1707.5 L2131.0,1706.7 L2132.0,1705.9 L2133.0,1705.0 L2134.0,1704.0 L2135.0,1702.6 L2136.0,1700.7 L2137.0,1698.2 L2138.0,1695.2 L2139.0,1691.8 L2140.0,1688.1 L2141.0,1684.1 L2142.0,1680.0 L2143.0,1675.3 L2144.0,1669.8 L2145.0,1663.5 L2146.0,1656.4 L2147.0,1648.5 L2148.0,1640.0 L2149.0,1629.5 L2150.0,1616.8 L2151.0,1603.2 L2152.0,1590.0 L2153.0,1576.8 L2154.0,1563.0 L2155.0,1550.3 L2156.0,1540.0 L2157.0,1531.5 L2158.0,1524.2 L2159.0,1520.0 L2160.0,1518.0 L2161.0,1516.3 L2162.0,1515.1 L2163.0,1514.3 L2164.0,1514.0 L2165.0,1514.1 L2166.0,1514.4 L2167.0,1515.0 L2168.0,1515.7 L2169.0,1516.6 L2170.0,1517.7 L2171.0,1519.0 L2172.0,1520.5 L2173.0,1522.2 L2174.0,1524.0 L2175.0,1527.6 L2176.0,1534.0 L2177.0,1542.2 L2178.0,1551.2 L2179.0,1560.0 L2180.0,1569.0 L2181.0,1578.8 L2182.0,1589.2 L2183.0,1599.7 L2184.0,1610.0 L2185.0,1620.6 L2186.0,1631.7 L2187.0,1642.5 L2188.0,1652.2 L2189.0,1660.0 L2190.0,1666.2 L2191.0,1671.7 L2192.0,1676.5 L2193.0,1680.6 L2194.0,1684.0 L2195.0,1686.9 L2196.0,1689.4 L2197.0,1691.6 L2198.0,1693.3 L2198.5,1694.0 L2199.0,1694.6 L2200.0,1695.9 L2201.0,1697.0 L2202.0,1697.7 L2203.0,1698.0 L2204.0,1697.8 L2205.0,1697.1 L2206.0,1696.2 L2207.0,1695.1 L2208.0,1694.0 L2209.0,1692.8 L2210.0,1691.4 L2211.0,1689.8 L2212.0,1688.0 L2213.0,1686.1 L2214.0,1684.0 L2215.0,1681.8 L2216.0,1679.5 L2217.0,1676.9 L2218.0,1674.1 L2219.0,1671.0 L2220.0,1667.7 L2221.0,1664.0 L2222.0,1660.0 L2223.0,1655.4 L2224.0,1650.1 L2225.0,1643.9 L2226.0,1636.9 L2227.0,1629.0 L2228.0,1620.0 L2229.0,1608.5 L2230.0,1593.8 L2231.0,1577.2 L2232.0,1560.0 L2233.0,1541.3 L2234.0,1520.5 L2235.0,1499.5 L2236.0,1480.0 L2237.0,1460.6 L2238.0,1442.2 L2239.0,1430.0 L2240.0,1423.0 L2241.0,1417.0 L2242.0,1412.2 L2243.0,1409.1 L2244.0,1408.0 L2245.0,1409.0 L2246.0,1411.8 L2247.0,1415.8 L2248.0,1420.5 L2249.0,1425.4 L2250.0,1430.0 L2251.0,1434.4 L2252.0,1439.0 L2253.0,1443.9 L2254.0,1449.0 L2255.0,1454.4 L2256.0,1460.0 L2257.0,1465.7 L2258.0,1471.6 L2259.0,1477.8 L2260.0,1484.5 L2261.0,1491.8 L2262.0,1500.0 L2263.0,1509.9 L2264.0,1521.6 L2265.0,1534.4 L2266.0,1547.5 L2267.0,1560.0 L2268.0,1572.5 L2269.0,1585.4 L2270.0,1598.0 L2271.0,1609.8 L2272.0,1620.0 L2273.0,1629.0 L2274.0,1637.6 L2275.0,1645.6 L2276.0,1652.7 L2277.0,1658.9 L2278.0,1664.0 L2279.0,1668.3 L2280.0,1672.2 L2281.0,1675.7 L2282.0,1678.7 L2283.0,1681.2 L2284.0,1683.0 L2285.0,1684.5 L2286.0,1685.8 L2287.0,1687.0 L2288.0,1687.7 L2289.0,1688.0 L2290.0,1687.7 L2291.0,1687.0 L2292.0,1685.8 L2293.0,1684.5 L2294.0,1683.0 L2295.0,1681.2 L2296.0,1678.8 L2297.0,1675.9 L2298.0,1672.5 L2299.0,1668.5 L2300.0,1664.0 L2301.0,1658.2 L2302.0,1650.5 L2303.0,1641.3 L2304.0,1631.0 L2305.0,1620.0 L2306.0,1607.6 L2307.0,1593.0 L2308.0,1577.0 L2309.0,1560.0 L2310.0,1540.8 L2311.0,1519.8 L2312.0,1500.0 L2313.0,1480.4 L2314.0,1461.8 L2315.0,1450.0 L2316.0,1443.9 L2317.0,1438.5 L2318.0,1433.9 L2319.0,1430.1 L2320.0,1427.3 L2321.0,1425.6 L2322.0,1425.0 L2323.0,1425.6 L2324.0,1427.1 L2325.0,1429.4 L2326.0,1432.1 L2327.0,1434.9 L2328.0,1437.6 L2329.0,1439.9 L2330.0,1441.4 L2331.0,1442.0 L2332.0,1440.9 L2333.0,1438.1 L2334.0,1434.1 L2335.0,1429.4 L2336.0,1424.5 L2337.0,1420.0 L2338.0,1415.2 L2339.0,1409.4 L2340.0,1403.1 L2341.0,1396.7 L2342.0,1390.6 L2343.0,1385.4 L2344.0,1381.5 L2345.0,1379.3 L2345.5,1379.0 L2346.0,1379.4 L2347.0,1382.1 L2348.0,1387.1 L2349.0,1393.9 L2350.0,1401.9 L2351.0,1410.8 L2352.0,1420.0 L2353.0,1431.7 L2354.0,1447.1 L2355.0,1463.9 L2356.0,1480.0 L2357.0,1495.3 L2358.0,1510.8 L2359.0,1525.9 L2360.0,1540.0 L2361.0,1553.3 L2362.0,1566.2 L2363.0,1578.4 L2364.0,1589.8 L2365.0,1600.0 L2366.0,1609.3 L2367.0,1618.0 L2368.0,1626.0 L2369.0,1633.4 L2370.0,1640.0 L2371.0,1646.1 L2372.0,1652.0 L2373.0,1657.6 L2374.0,1662.8 L2375.0,1667.7 L2376.0,1672.2 L2377.0,1676.3 L2378.0,1680.0 L2379.0,1683.4 L2380.0,1686.8 L2381.0,1690.0 L2382.0,1693.1 L2383.0,1696.0 L2384.0,1698.6 L2385.0,1701.0 L2386.0,1703.0 L2387.0,1704.7 L2388.0,1706.0 L2389.0,1707.1 L2390.0,1708.1 L2391.0,1709.0 L2392.0,1709.9 L2393.0,1710.7 L2394.0,1711.4 L2395.0,1712.1 L2396.0,1712.7 L2397.0,1713.2 L2398.0,1713.5 L2399.0,1713.8 L2400.0,1714.0 L2401.0,1714.1 L2402.0,1714.2 L2403.0,1714.3 L2404.0,1714.4 L2405.0,1714.5 L2406.0,1714.6 L2407.0,1714.7 L2408.0,1714.8 L2409.0,1714.9 L2410.0,1715.0 L2411.0,1715.0 L2412.0,1715.1 L2413.0,1715.2 L2414.0,1715.3 L2415.0,1715.3 L2416.0,1715.4 L2417.0,1715.4 L2418.0,1715.5 L2419.0,1715.5 L2420.0,1715.6 L2421.0,1715.6 L2422.0,1715.7 L2423.0,1715.7 L2424.0,1715.8 L2425.0,1715.8 L2426.0,1715.8 L2427.0,1715.9 L2428.0,1715.9 L2429.0,1715.9 L2430.0,1715.9 L2431.0,1715.9 L2432.0,1716.0 L2433.0,1716.0 L2434.0,1716.0 L2435.0,1716.0 L2436.0,1716.0 L2437.0,1716.0 L2438.0,1716.0"/>
</g>
<g fill="none" stroke="#ff0000" stroke-width="8.9" stroke-linejoin="round" stroke-linecap="butt">
<path d="M184.0,1165.0 L185.0,1165.1 L186.0,1165.2 L187.0,1165.2 L188.0,1165.3 L189.0,1165.4 L190.0,1165.5 L191.0,1165.6 L192.0,1165.6 L193.0,1165.7 L194.0,1165.8 L195.0,1165.9 L196.0,1166.0 L197.0,1166.1 L198.0,1166.2 L199.0,1166.4 L200.0,1166.5 L201.0,1166.6 L202.0,1166.7 L203.0,1166.8 L204.0,1166.9 L205.0,1167.0 L206.0,1167.0 L207.0,1166.6 L208.0,1165.5 L209.0,1163.9 L210.0,1162.0 L211.0,1160.0 L212.0,1158.0 L213.0,1155.6 L214.0,1152.4 L215.0,1149.1 L216.0,1146.1 L217.0,1143.9 L218.0,1143.0 L219.0,1143.0 L220.0,1143.0 L221.0,1143.0 L222.0,1143.0 L223.0,1143.1 L224.0,1143.1 L225.0,1143.1 L226.0,1143.2 L227.0,1143.2 L228.0,1143.3 L229.0,1143.4 L230.0,1143.4 L231.0,1143.5 L232.0,1143.6 L233.0,1144.0 L234.0,1145.1 L235.0,1146.5 L236.0,1148.2 L237.0,1150.0 L238.0,1151.7 L239.0,1153.1 L240.0,1154.0 L241.0,1154.6 L242.0,1155.3 L243.0,1155.9 L244.0,1156.5 L245.0,1157.0 L246.0,1157.5 L247.0,1157.9 L248.0,1158.3 L249.0,1158.6 L250.0,1158.8 L251.0,1159.0 L252.0,1159.0 L253.0,1158.9 L254.0,1158.5 L255.0,1157.9 L256.0,1157.2 L257.0,1156.4 L258.0,1155.5 L259.0,1154.5 L260.0,1153.5 L261.0,1152.6 L262.0,1151.8 L263.0,1151.1 L264.0,1150.5 L265.0,1150.1 L266.0,1150.0 L267.0,1150.1 L268.0,1150.2 L269.0,1150.5 L270.0,1150.8 L271.0,1151.2 L272.0,1151.6 L273.0,1152.0 L274.0,1152.5 L275.0,1153.0 L276.0,1153.4 L277.0,1153.8 L278.0,1154.2 L279.0,1154.5 L280.0,1154.8 L281.0,1154.9 L282.0,1155.0 L283.0,1155.0 L284.0,1154.9 L285.0,1154.8 L286.0,1154.6 L287.0,1154.4 L288.0,1154.2 L289.0,1153.9 L290.0,1153.6 L291.0,1153.4 L292.0,1153.1 L293.0,1152.8 L294.0,1152.5 L295.0,1152.2 L296.0,1151.9 L297.0,1151.6 L298.0,1151.4 L299.0,1151.2 L300.0,1151.0 L301.0,1150.9 L302.0,1150.7 L303.0,1150.6 L304.0,1150.5 L305.0,1150.4 L306.0,1150.3 L307.0,1150.3 L308.0,1150.2 L309.0,1150.1 L310.0,1150.0 L311.0,1149.9 L312.0,1149.7 L313.0,1149.6 L314.0,1149.4 L315.0,1149.2 L316.0,1149.0 L317.0,1148.4 L318.0,1147.3 L319.0,1145.9 L320.0,1144.3 L321.0,1142.7 L322.0,1141.3 L323.0,1140.4 L324.0,1140.0 L325.0,1140.1 L326.0,1140.3 L327.0,1140.7 L328.0,1141.2 L329.0,1141.7 L330.0,1142.3 L331.0,1142.8 L332.0,1143.3 L333.0,1143.7 L334.0,1143.9 L335.0,1144.0 L336.0,1143.6 L337.0,1142.4 L338.0,1140.7 L339.0,1138.6 L340.0,1136.3 L341.0,1133.9 L342.0,1131.6 L343.0,1129.6 L344.0,1128.0 L345.0,1126.7 L346.0,1125.3 L347.0,1123.9 L348.0,1122.5 L349.0,1121.2 L350.0,1119.9 L351.0,1118.6 L352.0,1117.4 L353.0,1116.2 L354.0,1115.2 L355.0,1114.3 L356.0,1113.5 L357.0,1112.9 L358.0,1112.4 L359.0,1112.1 L360.0,1112.0 L361.0,1112.4 L362.0,1113.4 L363.0,1114.8 L364.0,1116.5 L365.0,1118.3 L366.0,1120.0 L367.0,1121.8 L368.0,1123.9 L369.0,1126.2 L370.0,1128.7 L371.0,1131.2 L372.0,1133.7 L373.0,1136.1 L374.0,1138.4 L375.0,1140.3 L376.0,1142.0 L377.0,1143.5 L378.0,1145.0 L379.0,1146.5 L380.0,1148.0 L381.0,1149.4 L382.0,1150.7 L383.0,1151.9 L384.0,1152.9 L385.0,1153.8 L386.0,1154.4 L387.0,1154.9 L388.0,1155.0 L389.0,1155.0 L390.0,1155.0 L391.0,1154.9 L392.0,1154.8 L393.0,1154.7 L394.0,1154.6 L395.0,1154.5 L396.0,1154.4 L397.0,1154.2 L398.0,1154.0 L399.0,1153.5 L400.0,1152.6 L401.0,1151.2 L402.0,1149.5 L403.0,1147.5 L404.0,1145.2 L405.0,1142.6 L406.0,1140.0 L407.0,1136.8 L408.0,1132.6 L409.0,1127.5 L410.0,1121.7 L411.0,1115.1 L412.0,1108.0 L413.0,1098.9 L414.0,1087.4 L415.0,1074.6 L416.0,1061.7 L417.0,1050.0 L418.0,1039.7 L419.0,1029.9 L420.0,1020.0 L421.0,1010.3 L422.0,1000.0 L423.0,986.1 L424.0,975.0 L425.0,970.1 L426.0,968.0 L427.0,970.8 L428.0,977.4 L429.0,985.0 L430.0,994.0 L431.0,1005.3 L432.0,1016.4 L433.0,1025.0 L434.0,1031.8 L435.0,1037.6 L436.0,1040.0 L437.0,1036.8 L438.0,1029.1 L439.0,1020.0 L440.0,1009.6 L441.0,996.3 L442.0,980.0 L443.0,959.8 L444.0,933.6 L445.0,900.0 L446.0,838.2 L447.0,780.0 L448.0,755.9 L449.0,738.7 L449.5,730.0 L450.0,722.0 L451.0,706.8 L451.5,695.0 L452.0,666.9 L452.3,650.0 L453.0,628.0 L454.0,623.0 L455.0,628.0 L455.7,650.0 L456.0,666.5 L456.5,695.0 L457.0,709.7 L458.0,730.2 L458.5,740.0 L459.0,750.8 L460.0,772.3 L461.0,790.0 L462.0,805.0 L463.0,819.3 L464.0,829.8 L465.0,834.0 L466.0,821.2 L467.0,793.9 L467.5,780.0 L468.0,766.4 L469.0,735.3 L470.0,700.0 L471.0,655.7 L472.0,608.8 L472.5,590.0 L473.0,575.3 L474.0,550.9 L474.8,532.0 L475.0,524.8 L476.0,493.5 L476.5,480.0 L477.0,467.9 L477.6,458.0 L478.0,455.3 L479.0,452.0 L480.0,455.3 L480.4,458.0 L481.0,467.9 L481.5,480.0 L482.0,493.1 L483.0,524.1 L483.2,532.0 L484.0,554.0 L485.0,590.0 L486.0,664.8 L486.5,700.0 L487.0,723.8 L488.0,761.5 L489.0,800.0 L490.0,853.7 L491.0,900.0 L492.0,925.6 L493.0,945.0 L494.0,961.9 L495.0,980.0 L496.0,1003.4 L497.0,1024.5 L497.5,1030.0 L498.0,1032.8 L499.0,1037.4 L500.0,1040.9 L501.0,1043.1 L502.0,1044.0 L503.0,1044.2 L504.0,1044.4 L505.0,1044.4 L506.0,1044.5 L507.0,1044.6 L508.0,1044.6 L509.0,1044.8 L510.0,1045.0 L511.0,1046.7 L512.0,1050.7 L513.0,1055.9 L514.0,1061.3 L515.0,1066.0 L516.0,1070.4 L517.0,1075.2 L518.0,1079.9 L519.0,1084.0 L520.0,1086.9 L521.0,1088.0 L522.0,1085.7 L523.0,1079.5 L524.0,1070.7 L525.0,1060.4 L526.0,1049.8 L527.0,1040.0 L528.0,1030.9 L529.0,1021.3 L530.0,1011.0 L531.0,1000.0 L532.0,986.5 L533.0,971.8 L534.0,960.0 L535.0,950.9 L536.0,942.6 L537.0,936.4 L538.0,934.0 L539.0,936.6 L540.0,943.1 L541.0,951.5 L542.0,960.0 L543.0,969.3 L544.0,980.2 L545.0,991.1 L546.0,1000.0 L547.0,1008.0 L548.0,1015.0 L549.0,1018.0 L550.0,1015.5 L551.0,1009.0 L552.0,1000.0 L553.0,990.0 L554.0,977.8 L555.0,961.2 L556.0,940.0 L557.0,906.2 L558.0,861.4 L559.0,820.0 L560.0,786.1 L561.0,755.2 L561.7,736.0 L562.0,728.3 L563.0,705.1 L563.3,700.0 L564.0,690.4 L564.8,683.0 L565.0,681.8 L566.0,678.0 L567.0,681.6 L567.2,683.0 L568.0,700.0 L568.3,736.0 L569.0,776.6 L570.0,820.0 L571.0,877.4 L572.0,940.0 L573.0,1011.6 L574.0,1080.0 L575.0,1138.9 L576.0,1180.0 L577.0,1201.7 L578.0,1220.6 L579.0,1236.2 L580.0,1247.9 L581.0,1255.4 L582.0,1258.0 L583.0,1251.5 L584.0,1235.9 L585.0,1216.8 L586.0,1200.0 L587.0,1184.3 L588.0,1166.8 L589.0,1150.6 L590.0,1138.6 L591.0,1134.0 L592.0,1136.7 L593.0,1143.8 L594.0,1154.2 L595.0,1166.7 L596.0,1180.0 L597.0,1202.5 L598.0,1230.4 L599.0,1244.0 L600.0,1243.4 L601.0,1241.7 L602.0,1239.1 L603.0,1235.9 L604.0,1232.2 L605.0,1228.4 L606.0,1224.6 L607.0,1221.1 L608.0,1218.0 L609.0,1215.0 L610.0,1211.6 L611.0,1208.1 L612.0,1204.8 L613.0,1201.7 L614.0,1199.3 L615.0,1197.6 L616.0,1197.0 L617.0,1198.2 L618.0,1201.5 L619.0,1206.5 L620.0,1212.7 L621.0,1219.6 L622.0,1226.7 L623.0,1233.7 L624.0,1240.0 L625.0,1246.6 L626.0,1254.1 L627.0,1261.8 L628.0,1268.8 L629.0,1274.5 L630.0,1278.0 L631.0,1279.9 L632.0,1281.5 L633.0,1282.8 L634.0,1283.9 L635.0,1284.9 L636.0,1285.8 L637.0,1286.6 L638.0,1287.6 L639.0,1288.7 L640.0,1290.0 L641.0,1291.6 L642.0,1293.3 L643.0,1295.2 L644.0,1297.2 L645.0,1299.2 L646.0,1301.2 L647.0,1303.1 L648.0,1304.9 L649.0,1306.6 L650.0,1308.0 L651.0,1309.3 L652.0,1310.6 L653.0,1311.8 L654.0,1313.1 L655.0,1314.2 L656.0,1315.2 L657.0,1316.2 L658.0,1316.9 L659.0,1317.6 L660.0,1318.0 L661.0,1318.3 L662.0,1318.6 L663.0,1318.9 L664.0,1319.2 L665.0,1319.4 L666.0,1319.6 L667.0,1319.8 L668.0,1319.9 L669.0,1320.0 L670.0,1320.0 L671.0,1317.7 L672.0,1311.6 L673.0,1302.6 L674.0,1291.7 L675.0,1280.0 L676.0,1261.8 L677.0,1238.1 L678.0,1220.0 L679.0,1208.5 L680.0,1197.9 L681.0,1189.1 L682.0,1183.2 L683.0,1181.0 L684.0,1183.0 L685.0,1188.7 L686.0,1197.2 L687.0,1207.9 L688.0,1220.0 L689.0,1243.8 L690.0,1277.0 L691.0,1300.0 L692.0,1310.8 L693.0,1320.2 L694.0,1327.5 L695.0,1332.3 L696.0,1334.0 L697.0,1333.7 L698.0,1332.9 L699.0,1331.6 L700.0,1330.0 L701.0,1328.2 L702.0,1326.3 L703.0,1324.4 L704.0,1322.7 L705.0,1321.2 L706.0,1320.0 L707.0,1319.0 L708.0,1318.0 L709.0,1317.0 L710.0,1316.0 L711.0,1315.1 L712.0,1314.3 L713.0,1313.5 L714.0,1312.9 L715.0,1312.4 L716.0,1312.1 L717.0,1312.0 L718.0,1312.1 L719.0,1312.3 L720.0,1312.6 L721.0,1313.1 L722.0,1313.6 L723.0,1314.1 L724.0,1314.7 L725.0,1315.3 L726.0,1315.9 L727.0,1316.4 L728.0,1316.9 L729.0,1317.4 L730.0,1317.7 L731.0,1317.9 L732.0,1318.0 L733.0,1317.7 L734.0,1316.9 L735.0,1315.7 L736.0,1314.2 L737.0,1312.6 L738.0,1310.9 L739.0,1309.4 L740.0,1308.0 L741.0,1306.7 L742.0,1305.4 L743.0,1304.0 L744.0,1302.6 L745.0,1301.3 L746.0,1300.0 L747.0,1298.8 L748.0,1297.7 L749.0,1296.8 L750.0,1296.0 L751.0,1295.4 L752.0,1294.9 L753.0,1294.4 L754.0,1294.1 L755.0,1293.7 L756.0,1293.4 L757.0,1293.1 L758.0,1292.8 L759.0,1292.4 L760.0,1292.1 L761.0,1291.7 L762.0,1291.2 L763.0,1290.6 L764.0,1290.0 L765.0,1289.2 L766.0,1288.1 L767.0,1286.8 L768.0,1285.4 L769.0,1283.8 L770.0,1282.0 L771.0,1280.1 L772.0,1278.2 L773.0,1276.2 L774.0,1274.1 L775.0,1272.0 L776.0,1270.0 L777.0,1268.1 L778.0,1266.3 L779.0,1264.5 L780.0,1262.5 L781.0,1260.2 L782.0,1257.4 L783.0,1254.1 L784.0,1250.0 L785.0,1242.9 L786.0,1231.4 L787.0,1216.7 L788.0,1200.0 L789.0,1177.8 L790.0,1149.3 L791.0,1120.0 L792.0,1085.8 L793.0,1047.0 L794.0,1015.2 L795.0,1002.0 L796.0,1008.5 L797.0,1026.2 L798.0,1052.5 L799.0,1084.6 L800.0,1120.0 L801.0,1175.4 L802.0,1240.0 L803.0,1303.6 L804.0,1340.0 L805.0,1338.9 L806.0,1335.9 L807.0,1331.4 L808.0,1325.8 L809.0,1319.4 L810.0,1312.7 L811.0,1306.1 L812.0,1300.0 L813.0,1294.0 L814.0,1287.7 L815.0,1281.1 L816.0,1274.2 L817.0,1267.2 L818.0,1260.0 L819.0,1251.5 L820.0,1241.4 L821.0,1231.1 L822.0,1222.0 L823.0,1215.5 L824.0,1213.0 L825.0,1217.5 L826.0,1228.9 L827.0,1244.1 L828.0,1260.0 L829.0,1281.4 L830.0,1300.0 L831.0,1309.3 L832.0,1316.9 L833.0,1322.1 L834.0,1324.0 L835.0,1321.2 L836.0,1314.6 L837.0,1306.6 L838.0,1300.0 L839.0,1294.4 L840.0,1288.6 L841.0,1283.3 L842.0,1279.5 L843.0,1278.0 L844.0,1279.8 L845.0,1284.6 L846.0,1291.3 L847.0,1299.0 L848.0,1306.7 L849.0,1313.4 L850.0,1318.2 L851.0,1320.0 L852.0,1319.3 L853.0,1317.4 L854.0,1314.6 L855.0,1311.0 L856.0,1306.9 L857.0,1302.5 L858.0,1298.1 L859.0,1293.8 L860.0,1290.0 L861.0,1286.6 L862.0,1283.4 L863.0,1280.3 L864.0,1277.0 L865.0,1273.5 L866.0,1269.6 L867.0,1265.2 L868.0,1260.0 L869.0,1253.6 L870.0,1245.6 L871.0,1236.2 L872.0,1225.4 L873.0,1213.3 L874.0,1200.0 L875.0,1181.3 L876.0,1158.5 L877.0,1140.0 L878.0,1126.1 L879.0,1113.2 L880.0,1103.7 L881.0,1100.0 L882.0,1105.5 L883.0,1119.6 L884.0,1139.0 L885.0,1160.3 L886.0,1180.0 L887.0,1200.6 L888.0,1223.8 L889.0,1245.0 L890.0,1260.0 L891.0,1269.8 L892.0,1278.5 L893.0,1286.0 L894.0,1292.1 L895.0,1296.8 L896.0,1300.0 L897.0,1302.3 L898.0,1304.5 L899.0,1306.6 L900.0,1308.4 L901.0,1310.1 L902.0,1311.6 L903.0,1312.9 L904.0,1314.0 L905.0,1314.8 L906.0,1315.5 L907.0,1315.9 L908.0,1316.0 L909.0,1315.8 L910.0,1315.4 L911.0,1314.7 L912.0,1313.8 L913.0,1312.6 L914.0,1311.2 L915.0,1309.7 L916.0,1308.0 L917.0,1306.1 L918.0,1304.2 L919.0,1302.1 L920.0,1300.0 L921.0,1297.2 L922.0,1293.4 L923.0,1288.7 L924.0,1283.4 L925.0,1277.7 L926.0,1271.7 L927.0,1265.7 L928.0,1260.0 L929.0,1254.7 L930.0,1250.0 L931.0,1245.9 L932.0,1242.1 L933.0,1238.5 L934.0,1235.1 L935.0,1231.6 L936.0,1227.9 L937.0,1224.1 L938.0,1220.0 L939.0,1215.2 L940.0,1209.7 L941.0,1204.0 L942.0,1198.5 L943.0,1193.7 L944.0,1190.0 L945.0,1186.9 L946.0,1184.0 L947.0,1181.4 L948.0,1179.7 L949.0,1179.0 L950.0,1181.6 L951.0,1188.6 L952.0,1198.3 L953.0,1209.5 L954.0,1220.5 L955.0,1230.0 L956.0,1239.4 L957.0,1250.0 L958.0,1259.9 L959.0,1267.2 L960.0,1270.0 L961.0,1268.5 L962.0,1264.3 L963.0,1258.2 L964.0,1250.7 L965.0,1242.5 L966.0,1234.2 L967.0,1226.5 L968.0,1220.0 L969.0,1213.8 L970.0,1206.8 L971.0,1199.8 L972.0,1193.4 L973.0,1188.0 L974.0,1184.3 L975.0,1183.0 L976.0,1184.3 L977.0,1187.7 L978.0,1192.6 L979.0,1198.4 L980.0,1204.6 L981.0,1210.4 L982.0,1215.3 L983.0,1218.7 L984.0,1220.0 L985.0,1215.8 L986.0,1205.0 L987.0,1190.2 L988.0,1174.3 L989.0,1160.0 L990.0,1144.9 L991.0,1127.3 L992.0,1110.5 L993.0,1097.9 L994.0,1093.0 L995.0,1096.6 L996.0,1106.5 L997.0,1121.2 L998.0,1139.4 L999.0,1159.4 L1000.0,1180.0 L1001.0,1209.3 L1002.0,1245.1 L1003.0,1270.0 L1004.0,1283.2 L1005.0,1294.7 L1006.0,1303.8 L1007.0,1309.8 L1008.0,1312.0 L1009.0,1311.1 L1010.0,1308.8 L1011.0,1305.2 L1012.0,1300.8 L1013.0,1295.7 L1014.0,1290.3 L1015.0,1285.0 L1016.0,1280.0 L1017.0,1274.1 L1018.0,1266.7 L1019.0,1259.2 L1020.0,1252.8 L1021.0,1248.8 L1021.6,1248.0 L1022.0,1248.8 L1023.0,1256.4 L1024.0,1268.7 L1025.0,1281.3 L1026.0,1290.0 L1027.0,1295.3 L1028.0,1300.1 L1029.0,1304.2 L1030.0,1307.0 L1031.0,1308.0 L1032.0,1307.4 L1033.0,1305.8 L1034.0,1303.3 L1035.0,1300.1 L1036.0,1296.4 L1037.0,1292.4 L1038.0,1288.2 L1039.0,1284.0 L1040.0,1280.0 L1041.0,1276.1 L1042.0,1272.1 L1043.0,1267.9 L1044.0,1263.5 L1045.0,1258.8 L1046.0,1253.8 L1047.0,1248.5 L1048.0,1242.8 L1049.0,1236.6 L1050.0,1230.0 L1051.0,1222.8 L1052.0,1214.7 L1053.0,1205.5 L1054.0,1195.1 L1055.0,1183.4 L1056.0,1170.0 L1057.0,1150.3 L1058.0,1124.2 L1059.0,1098.5 L1060.0,1080.0 L1061.0,1067.6 L1062.0,1055.7 L1063.0,1044.7 L1064.0,1034.9 L1065.0,1026.7 L1066.0,1020.4 L1067.0,1016.4 L1068.0,1015.0 L1069.0,1017.6 L1070.0,1024.7 L1071.0,1035.6 L1072.0,1049.3 L1073.0,1065.2 L1074.0,1082.4 L1075.0,1100.0 L1076.0,1124.7 L1077.0,1155.5 L1078.0,1180.0 L1079.0,1197.1 L1080.0,1212.4 L1081.0,1224.0 L1082.0,1230.0 L1083.0,1232.4 L1084.0,1234.3 L1085.0,1235.8 L1086.0,1236.7 L1087.0,1237.0 L1088.0,1236.4 L1089.0,1234.7 L1090.0,1232.0 L1091.0,1228.4 L1092.0,1223.9 L1093.0,1218.8 L1094.0,1213.0 L1095.0,1206.7 L1096.0,1200.0 L1097.0,1188.0 L1098.0,1171.8 L1099.0,1160.0 L1100.0,1153.6 L1101.0,1148.2 L1102.0,1144.4 L1103.0,1143.0 L1104.0,1147.7 L1105.0,1158.4 L1106.0,1170.2 L1107.0,1178.0 L1108.0,1182.1 L1109.0,1185.6 L1110.0,1188.1 L1111.0,1189.0 L1112.0,1188.6 L1113.0,1187.6 L1114.0,1186.2 L1115.0,1184.5 L1116.0,1182.8 L1117.0,1181.4 L1118.0,1180.4 L1119.0,1180.0 L1120.0,1180.2 L1121.0,1180.8 L1122.0,1181.7 L1123.0,1182.7 L1124.0,1183.9 L1125.0,1185.0 L1126.0,1186.4 L1127.0,1188.3 L1128.0,1190.4 L1129.0,1192.6 L1130.0,1194.6 L1131.0,1196.4 L1132.0,1197.6 L1133.0,1198.0 L1134.0,1197.8 L1135.0,1197.3 L1136.0,1196.5 L1137.0,1195.5 L1138.0,1194.2 L1139.0,1192.8 L1140.0,1191.1 L1141.0,1189.4 L1142.0,1187.6 L1143.0,1185.7 L1144.0,1183.8 L1145.0,1181.9 L1146.0,1180.0 L1147.0,1178.0 L1148.0,1175.7 L1149.0,1173.1 L1150.0,1170.4 L1151.0,1167.6 L1152.0,1164.9 L1153.0,1162.4 L1154.0,1160.0 L1155.0,1157.7 L1156.0,1155.2 L1157.0,1152.8 L1158.0,1150.7 L1159.0,1149.0 L1160.0,1148.0 L1161.0,1147.4 L1162.0,1147.0 L1163.0,1146.6 L1164.0,1146.3 L1165.0,1146.0 L1166.0,1145.8 L1167.0,1145.7 L1168.0,1145.5 L1169.0,1145.3 L1170.0,1145.1 L1171.0,1144.9 L1172.0,1144.7 L1173.0,1144.4 L1174.0,1144.0 L1175.0,1143.5 L1176.0,1143.0 L1177.0,1142.1 L1178.0,1140.8 L1179.0,1139.0 L1180.0,1136.8 L1181.0,1134.3 L1182.0,1131.5 L1183.0,1128.3 L1184.0,1125.0 L1185.0,1120.9 L1186.0,1115.7 L1187.0,1109.3 L1188.0,1102.0 L1189.0,1093.9 L1190.0,1085.0 L1191.0,1073.6 L1192.0,1059.2 L1193.0,1043.9 L1194.0,1030.0 L1195.0,1016.3 L1196.0,1001.3 L1197.0,986.6 L1198.0,974.1 L1199.0,965.3 L1200.0,962.0 L1201.0,964.6 L1202.0,971.7 L1203.0,982.1 L1204.0,994.4 L1205.0,1007.4 L1206.0,1020.0 L1207.0,1035.1 L1208.0,1053.3 L1209.0,1069.9 L1210.0,1080.0 L1211.0,1085.1 L1212.0,1089.7 L1213.0,1094.0 L1214.0,1097.9 L1215.0,1101.3 L1216.0,1104.4 L1217.0,1107.0 L1218.0,1109.1 L1219.0,1110.8 L1220.0,1112.0 L1221.0,1112.8 L1222.0,1113.0 L1223.0,1112.9 L1224.0,1112.6 L1225.0,1112.0 L1226.0,1111.3 L1227.0,1110.4 L1228.0,1109.3 L1229.0,1108.1 L1230.0,1106.7 L1231.0,1105.2 L1232.0,1103.5 L1233.0,1101.8 L1234.0,1100.0 L1235.0,1097.3 L1236.0,1093.1 L1237.0,1087.9 L1238.0,1082.0 L1239.0,1075.8 L1240.0,1069.9 L1241.0,1064.5 L1242.0,1060.0 L1243.0,1056.0 L1244.0,1051.7 L1245.0,1047.6 L1246.0,1043.8 L1247.0,1040.8 L1248.0,1038.7 L1249.0,1038.0 L1250.0,1038.3 L1251.0,1039.3 L1252.0,1040.7 L1253.0,1042.5 L1254.0,1044.6 L1255.0,1046.8 L1256.0,1049.2 L1257.0,1051.4 L1258.0,1053.5 L1259.0,1055.3 L1260.0,1056.7 L1261.0,1057.7 L1262.0,1058.0 L1263.0,1056.6 L1264.0,1052.7 L1265.0,1046.7 L1266.0,1038.9 L1267.0,1029.9 L1268.0,1020.0 L1269.0,1002.6 L1270.0,978.7 L1271.0,960.0 L1272.0,947.8 L1273.0,936.3 L1274.0,926.5 L1275.0,919.2 L1276.0,915.4 L1276.4,915.0 L1277.0,916.1 L1278.0,922.4 L1279.0,933.1 L1280.0,947.1 L1281.0,963.2 L1282.0,980.0 L1283.0,1004.9 L1284.0,1036.4 L1285.0,1060.0 L1286.0,1074.5 L1287.0,1087.9 L1288.0,1099.6 L1289.0,1108.8 L1290.0,1114.8 L1291.0,1117.0 L1292.0,1116.6 L1293.0,1115.3 L1294.0,1113.4 L1295.0,1110.8 L1296.0,1107.6 L1297.0,1103.9 L1298.0,1099.7 L1299.0,1095.2 L1300.0,1090.3 L1301.0,1085.2 L1302.0,1080.0 L1303.0,1073.4 L1304.0,1064.6 L1305.0,1054.2 L1306.0,1042.9 L1307.0,1031.3 L1308.0,1020.0 L1309.0,1009.4 L1310.0,998.8 L1311.0,987.6 L1312.0,974.9 L1313.0,960.0 L1314.0,939.4 L1315.0,914.1 L1316.0,890.0 L1317.0,870.0 L1318.0,851.1 L1319.0,830.0 L1320.0,802.6 L1320.5,790.0 L1321.0,779.8 L1322.0,762.0 L1323.0,745.0 L1324.0,728.0 L1325.0,710.1 L1325.2,705.0 L1326.0,686.0 L1327.0,658.7 L1327.2,654.0 L1328.0,635.8 L1328.6,627.0 L1329.0,624.4 L1330.0,621.0 L1331.0,624.4 L1331.4,627.0 L1332.0,633.7 L1333.0,654.0 L1334.0,696.2 L1334.2,705.0 L1335.0,722.6 L1336.0,740.7 L1336.5,750.0 L1337.0,759.7 L1338.0,779.2 L1338.5,790.0 L1339.0,802.9 L1340.0,830.0 L1341.0,851.6 L1341.5,860.0 L1342.0,867.2 L1343.0,881.5 L1344.0,893.9 L1345.0,902.7 L1346.0,906.0 L1347.0,905.9 L1348.0,905.7 L1349.0,905.3 L1350.0,904.8 L1351.0,904.0 L1352.0,903.1 L1353.0,902.1 L1354.0,900.8 L1355.0,899.4 L1356.0,897.8 L1357.0,896.0 L1358.0,894.0 L1359.0,888.2 L1360.0,877.3 L1361.0,865.1 L1362.0,855.0 L1363.0,846.7 L1364.0,838.1 L1365.0,830.5 L1366.0,825.1 L1367.0,823.0 L1368.0,824.8 L1369.0,829.8 L1370.0,837.4 L1371.0,846.8 L1372.0,857.5 L1373.0,868.8 L1374.0,880.0 L1375.0,893.0 L1376.0,908.9 L1377.0,926.4 L1378.0,943.9 L1379.0,960.0 L1380.0,974.6 L1381.0,988.7 L1382.0,1002.5 L1383.0,1016.2 L1384.0,1030.0 L1385.0,1044.6 L1386.0,1059.6 L1387.0,1073.6 L1388.0,1085.0 L1389.0,1094.2 L1390.0,1102.7 L1391.0,1110.3 L1392.0,1117.1 L1393.0,1123.0 L1394.0,1128.0 L1395.0,1132.4 L1396.0,1136.5 L1397.0,1140.3 L1398.0,1143.8 L1399.0,1146.9 L1400.0,1149.6 L1401.0,1152.0 L1402.0,1154.0 L1403.0,1155.7 L1404.0,1157.3 L1405.0,1158.7 L1406.0,1160.0 L1407.0,1161.2 L1408.0,1162.3 L1409.0,1163.4 L1410.0,1164.3 L1411.0,1165.2 L1412.0,1166.0 L1413.0,1166.8 L1414.0,1167.5 L1415.0,1168.3 L1416.0,1169.0 L1417.0,1169.6 L1418.0,1170.2 L1419.0,1170.8 L1420.0,1171.4 L1421.0,1171.9 L1422.0,1172.3 L1423.0,1172.7 L1424.0,1173.0 L1425.0,1173.3 L1426.0,1173.6 L1427.0,1173.9 L1428.0,1174.1 L1429.0,1174.4 L1430.0,1174.6 L1431.0,1174.8 L1432.0,1174.9 L1433.0,1175.0 L1434.0,1175.0 L1435.0,1175.0 L1436.0,1174.8 L1437.0,1174.6 L1438.0,1174.4 L1439.0,1174.1 L1440.0,1173.7 L1441.0,1173.3 L1442.0,1172.9 L1443.0,1172.5 L1444.0,1172.0 L1445.0,1171.5 L1446.0,1171.0 L1447.0,1170.5 L1448.0,1169.8 L1449.0,1169.1 L1450.0,1168.4 L1451.0,1167.5 L1452.0,1166.6 L1453.0,1165.6 L1454.0,1164.6 L1455.0,1163.5 L1456.0,1162.4 L1457.0,1161.2 L1458.0,1160.0 L1459.0,1158.7 L1460.0,1157.1 L1461.0,1155.4 L1462.0,1153.6 L1463.0,1151.7 L1464.0,1149.8 L1465.0,1147.9 L1466.0,1146.0 L1467.0,1144.1 L1468.0,1142.1 L1469.0,1140.1 L1470.0,1138.1 L1471.0,1136.0 L1472.0,1133.9 L1473.0,1131.9 L1474.0,1129.9 L1475.0,1127.9 L1476.0,1126.0 L1477.0,1124.2 L1478.0,1122.5 L1479.0,1120.8 L1480.0,1119.1 L1481.0,1117.5 L1482.0,1115.7 L1483.0,1113.9 L1484.0,1112.0 L1485.0,1110.1 L1486.0,1108.3 L1487.0,1106.4 L1488.0,1104.3 L1489.0,1102.0 L1490.0,1099.3 L1491.0,1096.0 L1492.0,1091.4 L1493.0,1085.0 L1494.0,1077.3 L1495.0,1068.8 L1496.0,1060.0 L1497.0,1050.1 L1498.0,1038.8 L1499.0,1026.8 L1500.0,1015.0 L1501.0,1002.4 L1502.0,989.7 L1503.0,980.0 L1504.0,972.9 L1505.0,966.4 L1506.0,961.8 L1507.0,960.0 L1508.0,961.8 L1509.0,966.5 L1510.0,973.5 L1511.0,981.9 L1512.0,991.0 L1513.0,1000.0 L1514.0,1010.2 L1515.0,1022.7 L1516.0,1036.0 L1517.0,1048.9 L1518.0,1060.0 L1519.0,1070.1 L1520.0,1080.0 L1521.0,1088.2 L1522.0,1093.0 L1523.0,1095.5 L1524.0,1097.7 L1525.0,1099.5 L1526.0,1100.8 L1527.0,1101.7 L1528.0,1102.0 L1529.0,1101.4 L1530.0,1099.8 L1531.0,1097.5 L1532.0,1094.6 L1533.0,1091.5 L1534.0,1088.4 L1535.0,1085.5 L1536.0,1083.2 L1537.0,1081.6 L1538.0,1081.0 L1539.0,1081.9 L1540.0,1084.2 L1541.0,1087.6 L1542.0,1091.6 L1543.0,1095.9 L1544.0,1100.0 L1545.0,1104.4 L1546.0,1109.7 L1547.0,1115.3 L1548.0,1120.9 L1549.0,1125.9 L1550.0,1130.0 L1551.0,1133.4 L1552.0,1136.7 L1553.0,1139.6 L1554.0,1142.3 L1555.0,1144.4 L1556.0,1146.0 L1557.0,1147.2 L1558.0,1148.4 L1559.0,1149.4 L1560.0,1150.3 L1561.0,1151.2 L1562.0,1151.9 L1563.0,1152.6 L1564.0,1153.1 L1565.0,1153.6 L1566.0,1154.0 L1567.0,1154.3 L1568.0,1154.7 L1569.0,1155.0 L1570.0,1155.3 L1571.0,1155.6 L1572.0,1155.9 L1573.0,1156.1 L1574.0,1156.3 L1575.0,1156.5 L1576.0,1156.7 L1577.0,1156.8 L1578.0,1156.9 L1579.0,1157.0 L1580.0,1157.0 L1581.0,1157.0 L1582.0,1157.0 L1583.0,1156.9 L1584.0,1156.8 L1585.0,1156.7 L1586.0,1156.6 L1587.0,1156.5 L1588.0,1156.4 L1589.0,1156.3 L1590.0,1156.1 L1591.0,1155.9 L1592.0,1155.8 L1593.0,1155.6 L1594.0,1155.4 L1595.0,1155.2 L1596.0,1155.0 L1597.0,1154.8 L1598.0,1154.4 L1599.0,1154.0 L1600.0,1153.6 L1601.0,1153.1 L1602.0,1152.7 L1603.0,1152.2 L1604.0,1151.7 L1605.0,1151.3 L1606.0,1151.0 L1607.0,1150.7 L1608.0,1150.3 L1609.0,1150.0 L1610.0,1149.7 L1611.0,1149.4 L1612.0,1149.2 L1613.0,1149.1 L1614.0,1149.0 L1615.0,1149.2 L1616.0,1149.9 L1617.0,1150.8 L1618.0,1151.8 L1619.0,1152.9 L1620.0,1154.0 L1621.0,1155.1 L1622.0,1156.4 L1623.0,1157.8 L1624.0,1159.2 L1625.0,1160.6 L1626.0,1161.9 L1627.0,1163.1 L1628.0,1164.0 L1629.0,1164.8 L1630.0,1165.6 L1631.0,1166.3 L1632.0,1167.0 L1633.0,1167.7 L1634.0,1168.3 L1635.0,1168.9 L1636.0,1169.5 L1637.0,1169.9 L1638.0,1170.4 L1639.0,1170.7 L1640.0,1171.0 L1641.0,1171.2 L1642.0,1171.5 L1643.0,1171.7 L1644.0,1172.0 L1645.0,1172.2 L1646.0,1172.4 L1647.0,1172.6 L1648.0,1172.8 L1649.0,1173.0 L1650.0,1173.1 L1651.0,1173.3 L1652.0,1173.4 L1653.0,1173.6 L1654.0,1173.7 L1655.0,1173.8 L1656.0,1173.8 L1657.0,1173.9 L1658.0,1174.0 L1659.0,1174.0 L1660.0,1174.0 L1661.0,1174.0 L1662.0,1174.0 L1663.0,1174.0 L1664.0,1174.0 L1665.0,1174.0 L1666.0,1174.0 L1667.0,1174.0 L1668.0,1174.0 L1669.0,1174.0 L1670.0,1174.0 L1671.0,1174.0 L1672.0,1174.0 L1673.0,1174.0 L1674.0,1174.0 L1675.0,1174.0 L1676.0,1174.0 L1677.0,1174.0 L1678.0,1174.0 L1679.0,1174.0 L1680.0,1174.0 L1681.0,1173.9 L1682.0,1173.7 L1683.0,1173.3 L1684.0,1172.8 L1685.0,1172.3 L1686.0,1171.7 L1687.0,1171.2 L1688.0,1170.7 L1689.0,1170.3 L1690.0,1170.0 L1691.0,1169.8 L1692.0,1169.6 L1693.0,1169.4 L1694.0,1169.2 L1695.0,1169.0 L1696.0,1168.8 L1697.0,1168.6 L1698.0,1168.5 L1699.0,1168.3 L1700.0,1168.2 L1701.0,1168.1 L1702.0,1168.1 L1703.0,1168.0 L1704.0,1168.0 L1705.0,1168.1 L1706.0,1168.2 L1707.0,1168.5 L1708.0,1168.8 L1709.0,1169.2 L1710.0,1169.6 L1711.0,1170.0 L1712.0,1170.5 L1713.0,1170.9 L1714.0,1171.3 L1715.0,1171.7 L1716.0,1172.0 L1717.0,1172.3 L1718.0,1172.6 L1719.0,1173.0 L1720.0,1173.3 L1721.0,1173.6 L1722.0,1173.9 L1723.0,1174.2 L1724.0,1174.5 L1725.0,1174.7 L1726.0,1174.9 L1727.0,1175.0 L1728.0,1175.0 L1729.0,1175.0 L1730.0,1174.9 L1731.0,1174.7 L1732.0,1174.5 L1733.0,1174.2 L1734.0,1174.0 L1735.0,1173.8 L1736.0,1173.5 L1737.0,1173.3 L1738.0,1173.1 L1739.0,1173.0 L1740.0,1173.0 L1741.0,1173.0 L1742.0,1173.0 L1743.0,1173.0 L1744.0,1173.0 L1745.0,1173.0 L1746.0,1173.0 L1747.0,1173.0 L1748.0,1173.0"/>
<path d="M2080.0,1175.0 L2081.0,1175.0 L2082.0,1175.0 L2083.0,1175.0 L2084.0,1175.0 L2085.0,1174.9 L2086.0,1174.7 L2087.0,1174.3 L2088.0,1173.9 L2089.0,1173.3 L2090.0,1172.6 L2091.0,1171.9 L2092.0,1171.2 L2093.0,1170.4 L2094.0,1169.6 L2095.0,1168.8 L2096.0,1168.0 L2097.0,1167.2 L2098.0,1166.4 L2099.0,1165.5 L2100.0,1164.6 L2101.0,1163.6 L2102.0,1162.6 L2103.0,1161.5 L2104.0,1160.3 L2105.0,1159.1 L2106.0,1157.8 L2107.0,1156.4 L2108.0,1155.0 L2109.0,1153.4 L2110.0,1151.6 L2111.0,1149.5 L2112.0,1147.3 L2113.0,1145.0 L2114.0,1142.5 L2115.0,1140.0 L2116.0,1137.3 L2117.0,1134.7 L2118.0,1132.0 L2119.0,1129.2 L2120.0,1126.2 L2121.0,1123.1 L2122.0,1119.9 L2123.0,1116.5 L2124.0,1113.2 L2125.0,1109.8 L2126.0,1106.4 L2127.0,1103.2 L2128.0,1100.0 L2129.0,1096.9 L2130.0,1093.9 L2131.0,1091.0 L2132.0,1088.0 L2133.0,1085.1 L2134.0,1082.2 L2135.0,1079.2 L2136.0,1076.2 L2137.0,1073.1 L2138.0,1070.0 L2139.0,1066.6 L2140.0,1063.0 L2141.0,1059.4 L2142.0,1055.8 L2143.0,1052.7 L2144.0,1050.0 L2145.0,1047.6 L2146.0,1045.2 L2147.0,1042.8 L2148.0,1040.7 L2149.0,1038.8 L2150.0,1037.3 L2151.0,1036.3 L2152.0,1036.0 L2153.0,1036.3 L2154.0,1037.2 L2155.0,1038.6 L2156.0,1040.4 L2157.0,1042.4 L2158.0,1044.7 L2159.0,1047.0 L2160.0,1049.3 L2161.0,1051.6 L2162.0,1053.6 L2163.0,1055.4 L2164.0,1056.8 L2165.0,1057.7 L2166.0,1058.0 L2167.0,1057.7 L2168.0,1057.0 L2169.0,1055.8 L2170.0,1054.4 L2171.0,1052.6 L2172.0,1050.6 L2173.0,1048.5 L2174.0,1046.3 L2175.0,1044.0 L2176.0,1041.9 L2177.0,1039.8 L2178.0,1038.0 L2179.0,1036.3 L2180.0,1034.5 L2181.0,1032.8 L2182.0,1031.0 L2183.0,1029.2 L2184.0,1027.4 L2185.0,1025.6 L2186.0,1023.7 L2187.0,1021.9 L2188.0,1020.0 L2189.0,1018.1 L2190.0,1016.3 L2191.0,1014.5 L2192.0,1012.7 L2193.0,1010.8 L2194.0,1008.9 L2195.0,1007.0 L2196.0,1005.0 L2197.0,1002.9 L2198.0,1000.7 L2199.0,998.4 L2200.0,996.0 L2201.0,993.3 L2202.0,990.2 L2203.0,986.8 L2204.0,983.3 L2205.0,979.8 L2206.0,976.3 L2207.0,973.0 L2208.0,970.0 L2209.0,967.1 L2210.0,964.0 L2211.0,960.9 L2212.0,957.9 L2213.0,955.3 L2214.0,952.9 L2215.0,951.1 L2216.0,950.0 L2217.0,949.3 L2218.0,948.6 L2219.0,948.2 L2220.0,948.0 L2221.0,948.2 L2222.0,948.7 L2223.0,949.4 L2224.0,950.3 L2225.0,951.4 L2226.0,952.5 L2227.0,953.6 L2228.0,954.7 L2229.0,955.6 L2230.0,956.3 L2231.0,956.8 L2232.0,957.0 L2233.0,955.8 L2234.0,952.4 L2235.0,947.6 L2236.0,941.7 L2237.0,935.5 L2238.0,929.4 L2239.0,924.1 L2240.0,920.0 L2241.0,916.7 L2242.0,913.3 L2243.0,910.0 L2244.0,906.9 L2245.0,904.0 L2246.0,901.6 L2247.0,899.7 L2248.0,898.4 L2249.0,898.0 L2250.0,898.5 L2251.0,899.8 L2252.0,902.0 L2253.0,904.7 L2254.0,908.1 L2255.0,911.8 L2256.0,915.8 L2257.0,920.0 L2258.0,925.5 L2259.0,932.9 L2260.0,941.5 L2261.0,950.8 L2262.0,960.0 L2263.0,969.8 L2264.0,980.4 L2265.0,990.9 L2266.0,1000.0 L2267.0,1007.9 L2268.0,1015.4 L2269.0,1022.4 L2270.0,1028.9 L2271.0,1034.8 L2272.0,1040.0 L2273.0,1044.6 L2274.0,1048.9 L2275.0,1052.8 L2276.0,1056.5 L2277.0,1060.0 L2278.0,1063.4 L2279.0,1066.7 L2280.0,1070.0 L2281.0,1073.3 L2282.0,1076.5 L2283.0,1079.6 L2284.0,1082.7 L2285.0,1085.7 L2286.0,1088.6 L2287.0,1091.5 L2288.0,1094.4 L2289.0,1097.2 L2290.0,1100.0 L2291.0,1102.8 L2292.0,1105.6 L2293.0,1108.4 L2294.0,1111.2 L2295.0,1113.9 L2296.0,1116.6 L2297.0,1119.1 L2298.0,1121.6 L2299.0,1123.9 L2300.0,1126.0 L2301.0,1128.0 L2302.0,1130.0 L2303.0,1131.9 L2304.0,1133.8 L2305.0,1135.5 L2306.0,1137.3 L2307.0,1138.9 L2308.0,1140.5 L2309.0,1142.0 L2310.0,1143.4 L2311.0,1144.8 L2312.0,1146.0 L2313.0,1147.2 L2314.0,1148.5 L2315.0,1149.8 L2316.0,1151.0 L2317.0,1152.3 L2318.0,1153.5 L2319.0,1154.6 L2320.0,1155.6 L2321.0,1156.6 L2322.0,1157.4 L2323.0,1158.1 L2324.0,1158.6 L2325.0,1158.9 L2326.0,1159.0 L2327.0,1159.0 L2328.0,1158.9 L2329.0,1158.7 L2330.0,1158.5 L2331.0,1158.2 L2332.0,1157.9 L2333.0,1157.5 L2334.0,1157.1 L2335.0,1156.6 L2336.0,1156.1 L2337.0,1155.6 L2338.0,1155.1 L2339.0,1154.6 L2340.0,1154.0 L2341.0,1153.4 L2342.0,1152.6 L2343.0,1151.8 L2344.0,1150.8 L2345.0,1149.7 L2346.0,1148.4 L2347.0,1147.0 L2348.0,1145.5 L2349.0,1143.8 L2350.0,1142.0 L2351.0,1139.6 L2352.0,1136.3 L2353.0,1132.5 L2354.0,1128.3 L2355.0,1124.0 L2356.0,1120.0 L2357.0,1115.8 L2358.0,1111.1 L2359.0,1106.4 L2360.0,1102.0 L2361.0,1098.4 L2362.0,1096.0 L2363.0,1094.3 L2364.0,1092.7 L2365.0,1091.2 L2366.0,1089.8 L2367.0,1088.6 L2368.0,1087.4 L2369.0,1086.4 L2370.0,1085.6 L2371.0,1084.9 L2372.0,1084.4 L2373.0,1084.1 L2374.0,1084.0 L2375.0,1085.4 L2376.0,1089.0 L2377.0,1094.0 L2378.0,1099.7 L2379.0,1105.3 L2380.0,1110.0 L2381.0,1114.4 L2382.0,1119.2 L2383.0,1124.0 L2384.0,1128.1 L2385.0,1130.9 L2386.0,1132.0 L2387.0,1131.3 L2388.0,1129.3 L2389.0,1126.4 L2390.0,1123.0 L2391.0,1119.3 L2392.0,1115.7 L2393.0,1112.5 L2394.0,1110.0 L2395.0,1107.9 L2396.0,1105.8 L2397.0,1103.7 L2398.0,1101.9 L2399.0,1100.4 L2400.0,1099.4 L2401.0,1099.0 L2402.0,1099.6 L2403.0,1101.3 L2404.0,1104.0 L2405.0,1107.4 L2406.0,1111.3 L2407.0,1115.6 L2408.0,1120.0 L2409.0,1126.3 L2410.0,1134.8 L2411.0,1143.5 L2412.0,1150.0 L2413.0,1154.9 L2414.0,1159.4 L2415.0,1162.7 L2416.0,1164.0 L2417.0,1163.7 L2418.0,1163.1 L2419.0,1162.1 L2420.0,1161.0 L2421.0,1159.9 L2422.0,1158.9 L2423.0,1158.3 L2424.0,1158.0 L2425.0,1158.0 L2426.0,1158.1 L2427.0,1158.2 L2428.0,1158.4 L2429.0,1158.6 L2430.0,1158.8 L2431.0,1159.1 L2432.0,1159.4 L2433.0,1159.8 L2434.0,1160.2 L2435.0,1160.6 L2436.0,1161.0 L2437.0,1161.5 L2438.0,1162.0 L2439.0,1162.7 L2440.0,1163.8 L2441.0,1165.1 L2442.0,1166.7 L2443.0,1168.4 L2444.0,1170.2 L2445.0,1172.0"/>
</g>
<rect x="1785" y="1168.6" width="298" height="12.6" fill="#ff0000"/>
<rect x="1785" y="1167.2" width="6" height="16" fill="#ff0000"/>
<g stroke="#000" stroke-width="3.7" stroke-dasharray="9.6 15.2" fill="none">
<line x1="355" y1="1112" x2="347" y2="1625"/>
<line x1="417" y1="1000" x2="417" y2="1628"/>
<line x1="471" y1="665" x2="487" y2="1318"/>
<line x1="538" y1="955" x2="529" y2="1510"/>
<line x1="590" y1="1225" x2="599" y2="1655"/>
<line x1="673" y1="1238" x2="669" y2="1695"/>
<line x1="723" y1="1310" x2="735" y2="1692"/>
<line x1="819" y1="1195" x2="848" y2="1625"/>
<line x1="877" y1="1150" x2="894" y2="1508"/>
<line x1="1068" y1="1040" x2="1072" y2="1398"/>
<line x1="1126" y1="1195" x2="1138" y2="1448"/>
<line x1="1203" y1="1045" x2="1212" y2="1600"/>
<line x1="1275" y1="960" x2="1266" y2="1518"/>
<line x1="1363" y1="838" x2="1383" y2="1588"/>
<line x1="1499" y1="980" x2="1491" y2="1538"/>
<line x1="1530" y1="1086" x2="1522" y2="1615"/>
<line x1="2154" y1="1040" x2="2154" y2="1470"/>
<line x1="2247" y1="928" x2="2247" y2="1354"/>
<line x1="2356" y1="1102" x2="2356" y2="1381"/>
</g>
<rect x="1427" y="129" width="178.6" height="14.8" fill="#000"/>
<rect x="1427" y="230" width="178.6" height="10.6" fill="#ff0000"/>
<text id="leg1" x="1624" y="163.6" font-size="77" letter-spacing="0.75">Theoretical spectrum</text>
<text id="leg2" x="1624" y="264" font-size="77" letter-spacing="0.6">Experimental spectrum</text>
<text id="tl0" x="306.1" y="1815.5" font-size="76" letter-spacing="3.0" text-anchor="middle">600</text>
<text id="tl1" x="487.0" y="1815.5" font-size="76" letter-spacing="3.0" text-anchor="middle">750</text>
<text id="tl2" x="665.5" y="1815.5" font-size="76" letter-spacing="3.0" text-anchor="middle">900</text>
<text id="tl3" x="848.0" y="1815.5" font-size="76" letter-spacing="3.0" text-anchor="middle">1050</text>
<text id="tl4" x="1027.7" y="1815.5" font-size="76" letter-spacing="3.0" text-anchor="middle">1200</text>
<text id="tl5" x="1208.5" y="1815.5" font-size="76" letter-spacing="3.0" text-anchor="middle">1350</text>
<text id="tl6" x="1389.9" y="1815.5" font-size="76" letter-spacing="3.0" text-anchor="middle">1500</text>
<text id="tl7" x="1570.1" y="1815.5" font-size="76" letter-spacing="3.0" text-anchor="middle">1650</text>
<text id="tl8" x="1815.5" y="1815.5" font-size="76" letter-spacing="3.0" text-anchor="middle">2550</text>
<text id="tl9" x="1986.4" y="1815.5" font-size="76" letter-spacing="3.0" text-anchor="middle">2700</text>
<text id="tl10" x="2160.1" y="1815.5" font-size="76" letter-spacing="3.0" text-anchor="middle">2850</text>
<text id="tl11" x="2332.2" y="1815.5" font-size="76" letter-spacing="3.0" text-anchor="middle">3000</text>
<text id="xl" x="947" y="1978.7" font-size="93.5" letter-spacing="0.7">Wavenumber cm</text>
<text id="sup" x="1634.5" y="1924" font-size="57" letter-spacing="0">-1</text>
<text id="yl" transform="translate(100.5,1461) rotate(-90)" font-size="96" letter-spacing="0.0">Infrared intensity (a,u)</text>
</svg></body></html>
